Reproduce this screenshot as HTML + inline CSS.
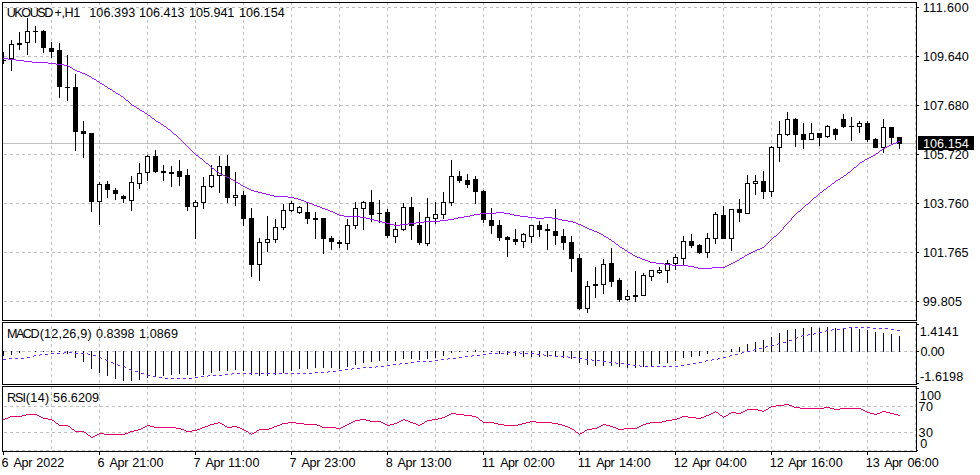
<!DOCTYPE html>
<html><head><meta charset="utf-8"><title>UKOUSD+,H1</title>
<style>
html,body{margin:0;padding:0;background:#fff;}
body{width:980px;height:475px;position:relative;overflow:hidden;font-family:"Liberation Sans",sans-serif;}
.t{position:absolute;font-size:12.6px;line-height:12px;height:12px;white-space:pre;color:#000;}
</style></head><body>
<svg width="980" height="475" viewBox="0 0 980 475" shape-rendering="crispEdges" style="position:absolute;left:0;top:0"><rect width="980" height="475" fill="#fff"/><path fill="#c0c0c0" d="M4 7h3v1h-3zM10 7h3v1h-3zM16 7h3v1h-3zM22 7h3v1h-3zM28 7h3v1h-3zM34 7h3v1h-3zM40 7h3v1h-3zM46 7h3v1h-3zM52 7h3v1h-3zM58 7h3v1h-3zM64 7h3v1h-3zM70 7h3v1h-3zM76 7h3v1h-3zM82 7h3v1h-3zM88 7h3v1h-3zM94 7h3v1h-3zM100 7h3v1h-3zM106 7h3v1h-3zM112 7h3v1h-3zM118 7h3v1h-3zM124 7h3v1h-3zM130 7h3v1h-3zM136 7h3v1h-3zM142 7h3v1h-3zM148 7h3v1h-3zM154 7h3v1h-3zM160 7h3v1h-3zM166 7h3v1h-3zM172 7h3v1h-3zM178 7h3v1h-3zM184 7h3v1h-3zM190 7h3v1h-3zM196 7h3v1h-3zM202 7h3v1h-3zM208 7h3v1h-3zM214 7h3v1h-3zM220 7h3v1h-3zM226 7h3v1h-3zM232 7h3v1h-3zM238 7h3v1h-3zM244 7h3v1h-3zM250 7h3v1h-3zM256 7h3v1h-3zM262 7h3v1h-3zM268 7h3v1h-3zM274 7h3v1h-3zM280 7h3v1h-3zM286 7h3v1h-3zM292 7h3v1h-3zM298 7h3v1h-3zM304 7h3v1h-3zM310 7h3v1h-3zM316 7h3v1h-3zM322 7h3v1h-3zM328 7h3v1h-3zM334 7h3v1h-3zM340 7h3v1h-3zM346 7h3v1h-3zM352 7h3v1h-3zM358 7h3v1h-3zM364 7h3v1h-3zM370 7h3v1h-3zM376 7h3v1h-3zM382 7h3v1h-3zM388 7h3v1h-3zM394 7h3v1h-3zM400 7h3v1h-3zM406 7h3v1h-3zM412 7h3v1h-3zM418 7h3v1h-3zM424 7h3v1h-3zM430 7h3v1h-3zM436 7h3v1h-3zM442 7h3v1h-3zM448 7h3v1h-3zM454 7h3v1h-3zM460 7h3v1h-3zM466 7h3v1h-3zM472 7h3v1h-3zM478 7h3v1h-3zM484 7h3v1h-3zM490 7h3v1h-3zM496 7h3v1h-3zM502 7h3v1h-3zM508 7h3v1h-3zM514 7h3v1h-3zM520 7h3v1h-3zM526 7h3v1h-3zM532 7h3v1h-3zM538 7h3v1h-3zM544 7h3v1h-3zM550 7h3v1h-3zM556 7h3v1h-3zM562 7h3v1h-3zM568 7h3v1h-3zM574 7h3v1h-3zM580 7h3v1h-3zM586 7h3v1h-3zM592 7h3v1h-3zM598 7h3v1h-3zM604 7h3v1h-3zM610 7h3v1h-3zM616 7h3v1h-3zM622 7h3v1h-3zM628 7h3v1h-3zM634 7h3v1h-3zM640 7h3v1h-3zM646 7h3v1h-3zM652 7h3v1h-3zM658 7h3v1h-3zM664 7h3v1h-3zM670 7h3v1h-3zM676 7h3v1h-3zM682 7h3v1h-3zM688 7h3v1h-3zM694 7h3v1h-3zM700 7h3v1h-3zM706 7h3v1h-3zM712 7h3v1h-3zM718 7h3v1h-3zM724 7h3v1h-3zM730 7h3v1h-3zM736 7h3v1h-3zM742 7h3v1h-3zM748 7h3v1h-3zM754 7h3v1h-3zM760 7h3v1h-3zM766 7h3v1h-3zM772 7h3v1h-3zM778 7h3v1h-3zM784 7h3v1h-3zM790 7h3v1h-3zM796 7h3v1h-3zM802 7h3v1h-3zM808 7h3v1h-3zM814 7h3v1h-3zM820 7h3v1h-3zM826 7h3v1h-3zM832 7h3v1h-3zM838 7h3v1h-3zM844 7h3v1h-3zM850 7h3v1h-3zM856 7h3v1h-3zM862 7h3v1h-3zM868 7h3v1h-3zM874 7h3v1h-3zM880 7h3v1h-3zM886 7h3v1h-3zM892 7h3v1h-3zM898 7h3v1h-3zM904 7h3v1h-3zM910 7h3v1h-3zM4 56h3v1h-3zM10 56h3v1h-3zM16 56h3v1h-3zM22 56h3v1h-3zM28 56h3v1h-3zM34 56h3v1h-3zM40 56h3v1h-3zM46 56h3v1h-3zM52 56h3v1h-3zM58 56h3v1h-3zM64 56h3v1h-3zM70 56h3v1h-3zM76 56h3v1h-3zM82 56h3v1h-3zM88 56h3v1h-3zM94 56h3v1h-3zM100 56h3v1h-3zM106 56h3v1h-3zM112 56h3v1h-3zM118 56h3v1h-3zM124 56h3v1h-3zM130 56h3v1h-3zM136 56h3v1h-3zM142 56h3v1h-3zM148 56h3v1h-3zM154 56h3v1h-3zM160 56h3v1h-3zM166 56h3v1h-3zM172 56h3v1h-3zM178 56h3v1h-3zM184 56h3v1h-3zM190 56h3v1h-3zM196 56h3v1h-3zM202 56h3v1h-3zM208 56h3v1h-3zM214 56h3v1h-3zM220 56h3v1h-3zM226 56h3v1h-3zM232 56h3v1h-3zM238 56h3v1h-3zM244 56h3v1h-3zM250 56h3v1h-3zM256 56h3v1h-3zM262 56h3v1h-3zM268 56h3v1h-3zM274 56h3v1h-3zM280 56h3v1h-3zM286 56h3v1h-3zM292 56h3v1h-3zM298 56h3v1h-3zM304 56h3v1h-3zM310 56h3v1h-3zM316 56h3v1h-3zM322 56h3v1h-3zM328 56h3v1h-3zM334 56h3v1h-3zM340 56h3v1h-3zM346 56h3v1h-3zM352 56h3v1h-3zM358 56h3v1h-3zM364 56h3v1h-3zM370 56h3v1h-3zM376 56h3v1h-3zM382 56h3v1h-3zM388 56h3v1h-3zM394 56h3v1h-3zM400 56h3v1h-3zM406 56h3v1h-3zM412 56h3v1h-3zM418 56h3v1h-3zM424 56h3v1h-3zM430 56h3v1h-3zM436 56h3v1h-3zM442 56h3v1h-3zM448 56h3v1h-3zM454 56h3v1h-3zM460 56h3v1h-3zM466 56h3v1h-3zM472 56h3v1h-3zM478 56h3v1h-3zM484 56h3v1h-3zM490 56h3v1h-3zM496 56h3v1h-3zM502 56h3v1h-3zM508 56h3v1h-3zM514 56h3v1h-3zM520 56h3v1h-3zM526 56h3v1h-3zM532 56h3v1h-3zM538 56h3v1h-3zM544 56h3v1h-3zM550 56h3v1h-3zM556 56h3v1h-3zM562 56h3v1h-3zM568 56h3v1h-3zM574 56h3v1h-3zM580 56h3v1h-3zM586 56h3v1h-3zM592 56h3v1h-3zM598 56h3v1h-3zM604 56h3v1h-3zM610 56h3v1h-3zM616 56h3v1h-3zM622 56h3v1h-3zM628 56h3v1h-3zM634 56h3v1h-3zM640 56h3v1h-3zM646 56h3v1h-3zM652 56h3v1h-3zM658 56h3v1h-3zM664 56h3v1h-3zM670 56h3v1h-3zM676 56h3v1h-3zM682 56h3v1h-3zM688 56h3v1h-3zM694 56h3v1h-3zM700 56h3v1h-3zM706 56h3v1h-3zM712 56h3v1h-3zM718 56h3v1h-3zM724 56h3v1h-3zM730 56h3v1h-3zM736 56h3v1h-3zM742 56h3v1h-3zM748 56h3v1h-3zM754 56h3v1h-3zM760 56h3v1h-3zM766 56h3v1h-3zM772 56h3v1h-3zM778 56h3v1h-3zM784 56h3v1h-3zM790 56h3v1h-3zM796 56h3v1h-3zM802 56h3v1h-3zM808 56h3v1h-3zM814 56h3v1h-3zM820 56h3v1h-3zM826 56h3v1h-3zM832 56h3v1h-3zM838 56h3v1h-3zM844 56h3v1h-3zM850 56h3v1h-3zM856 56h3v1h-3zM862 56h3v1h-3zM868 56h3v1h-3zM874 56h3v1h-3zM880 56h3v1h-3zM886 56h3v1h-3zM892 56h3v1h-3zM898 56h3v1h-3zM904 56h3v1h-3zM910 56h3v1h-3zM4 105h3v1h-3zM10 105h3v1h-3zM16 105h3v1h-3zM22 105h3v1h-3zM28 105h3v1h-3zM34 105h3v1h-3zM40 105h3v1h-3zM46 105h3v1h-3zM52 105h3v1h-3zM58 105h3v1h-3zM64 105h3v1h-3zM70 105h3v1h-3zM76 105h3v1h-3zM82 105h3v1h-3zM88 105h3v1h-3zM94 105h3v1h-3zM100 105h3v1h-3zM106 105h3v1h-3zM112 105h3v1h-3zM118 105h3v1h-3zM124 105h3v1h-3zM130 105h3v1h-3zM136 105h3v1h-3zM142 105h3v1h-3zM148 105h3v1h-3zM154 105h3v1h-3zM160 105h3v1h-3zM166 105h3v1h-3zM172 105h3v1h-3zM178 105h3v1h-3zM184 105h3v1h-3zM190 105h3v1h-3zM196 105h3v1h-3zM202 105h3v1h-3zM208 105h3v1h-3zM214 105h3v1h-3zM220 105h3v1h-3zM226 105h3v1h-3zM232 105h3v1h-3zM238 105h3v1h-3zM244 105h3v1h-3zM250 105h3v1h-3zM256 105h3v1h-3zM262 105h3v1h-3zM268 105h3v1h-3zM274 105h3v1h-3zM280 105h3v1h-3zM286 105h3v1h-3zM292 105h3v1h-3zM298 105h3v1h-3zM304 105h3v1h-3zM310 105h3v1h-3zM316 105h3v1h-3zM322 105h3v1h-3zM328 105h3v1h-3zM334 105h3v1h-3zM340 105h3v1h-3zM346 105h3v1h-3zM352 105h3v1h-3zM358 105h3v1h-3zM364 105h3v1h-3zM370 105h3v1h-3zM376 105h3v1h-3zM382 105h3v1h-3zM388 105h3v1h-3zM394 105h3v1h-3zM400 105h3v1h-3zM406 105h3v1h-3zM412 105h3v1h-3zM418 105h3v1h-3zM424 105h3v1h-3zM430 105h3v1h-3zM436 105h3v1h-3zM442 105h3v1h-3zM448 105h3v1h-3zM454 105h3v1h-3zM460 105h3v1h-3zM466 105h3v1h-3zM472 105h3v1h-3zM478 105h3v1h-3zM484 105h3v1h-3zM490 105h3v1h-3zM496 105h3v1h-3zM502 105h3v1h-3zM508 105h3v1h-3zM514 105h3v1h-3zM520 105h3v1h-3zM526 105h3v1h-3zM532 105h3v1h-3zM538 105h3v1h-3zM544 105h3v1h-3zM550 105h3v1h-3zM556 105h3v1h-3zM562 105h3v1h-3zM568 105h3v1h-3zM574 105h3v1h-3zM580 105h3v1h-3zM586 105h3v1h-3zM592 105h3v1h-3zM598 105h3v1h-3zM604 105h3v1h-3zM610 105h3v1h-3zM616 105h3v1h-3zM622 105h3v1h-3zM628 105h3v1h-3zM634 105h3v1h-3zM640 105h3v1h-3zM646 105h3v1h-3zM652 105h3v1h-3zM658 105h3v1h-3zM664 105h3v1h-3zM670 105h3v1h-3zM676 105h3v1h-3zM682 105h3v1h-3zM688 105h3v1h-3zM694 105h3v1h-3zM700 105h3v1h-3zM706 105h3v1h-3zM712 105h3v1h-3zM718 105h3v1h-3zM724 105h3v1h-3zM730 105h3v1h-3zM736 105h3v1h-3zM742 105h3v1h-3zM748 105h3v1h-3zM754 105h3v1h-3zM760 105h3v1h-3zM766 105h3v1h-3zM772 105h3v1h-3zM778 105h3v1h-3zM784 105h3v1h-3zM790 105h3v1h-3zM796 105h3v1h-3zM802 105h3v1h-3zM808 105h3v1h-3zM814 105h3v1h-3zM820 105h3v1h-3zM826 105h3v1h-3zM832 105h3v1h-3zM838 105h3v1h-3zM844 105h3v1h-3zM850 105h3v1h-3zM856 105h3v1h-3zM862 105h3v1h-3zM868 105h3v1h-3zM874 105h3v1h-3zM880 105h3v1h-3zM886 105h3v1h-3zM892 105h3v1h-3zM898 105h3v1h-3zM904 105h3v1h-3zM910 105h3v1h-3zM4 154h3v1h-3zM10 154h3v1h-3zM16 154h3v1h-3zM22 154h3v1h-3zM28 154h3v1h-3zM34 154h3v1h-3zM40 154h3v1h-3zM46 154h3v1h-3zM52 154h3v1h-3zM58 154h3v1h-3zM64 154h3v1h-3zM70 154h3v1h-3zM76 154h3v1h-3zM82 154h3v1h-3zM88 154h3v1h-3zM94 154h3v1h-3zM100 154h3v1h-3zM106 154h3v1h-3zM112 154h3v1h-3zM118 154h3v1h-3zM124 154h3v1h-3zM130 154h3v1h-3zM136 154h3v1h-3zM142 154h3v1h-3zM148 154h3v1h-3zM154 154h3v1h-3zM160 154h3v1h-3zM166 154h3v1h-3zM172 154h3v1h-3zM178 154h3v1h-3zM184 154h3v1h-3zM190 154h3v1h-3zM196 154h3v1h-3zM202 154h3v1h-3zM208 154h3v1h-3zM214 154h3v1h-3zM220 154h3v1h-3zM226 154h3v1h-3zM232 154h3v1h-3zM238 154h3v1h-3zM244 154h3v1h-3zM250 154h3v1h-3zM256 154h3v1h-3zM262 154h3v1h-3zM268 154h3v1h-3zM274 154h3v1h-3zM280 154h3v1h-3zM286 154h3v1h-3zM292 154h3v1h-3zM298 154h3v1h-3zM304 154h3v1h-3zM310 154h3v1h-3zM316 154h3v1h-3zM322 154h3v1h-3zM328 154h3v1h-3zM334 154h3v1h-3zM340 154h3v1h-3zM346 154h3v1h-3zM352 154h3v1h-3zM358 154h3v1h-3zM364 154h3v1h-3zM370 154h3v1h-3zM376 154h3v1h-3zM382 154h3v1h-3zM388 154h3v1h-3zM394 154h3v1h-3zM400 154h3v1h-3zM406 154h3v1h-3zM412 154h3v1h-3zM418 154h3v1h-3zM424 154h3v1h-3zM430 154h3v1h-3zM436 154h3v1h-3zM442 154h3v1h-3zM448 154h3v1h-3zM454 154h3v1h-3zM460 154h3v1h-3zM466 154h3v1h-3zM472 154h3v1h-3zM478 154h3v1h-3zM484 154h3v1h-3zM490 154h3v1h-3zM496 154h3v1h-3zM502 154h3v1h-3zM508 154h3v1h-3zM514 154h3v1h-3zM520 154h3v1h-3zM526 154h3v1h-3zM532 154h3v1h-3zM538 154h3v1h-3zM544 154h3v1h-3zM550 154h3v1h-3zM556 154h3v1h-3zM562 154h3v1h-3zM568 154h3v1h-3zM574 154h3v1h-3zM580 154h3v1h-3zM586 154h3v1h-3zM592 154h3v1h-3zM598 154h3v1h-3zM604 154h3v1h-3zM610 154h3v1h-3zM616 154h3v1h-3zM622 154h3v1h-3zM628 154h3v1h-3zM634 154h3v1h-3zM640 154h3v1h-3zM646 154h3v1h-3zM652 154h3v1h-3zM658 154h3v1h-3zM664 154h3v1h-3zM670 154h3v1h-3zM676 154h3v1h-3zM682 154h3v1h-3zM688 154h3v1h-3zM694 154h3v1h-3zM700 154h3v1h-3zM706 154h3v1h-3zM712 154h3v1h-3zM718 154h3v1h-3zM724 154h3v1h-3zM730 154h3v1h-3zM736 154h3v1h-3zM742 154h3v1h-3zM748 154h3v1h-3zM754 154h3v1h-3zM760 154h3v1h-3zM766 154h3v1h-3zM772 154h3v1h-3zM778 154h3v1h-3zM784 154h3v1h-3zM790 154h3v1h-3zM796 154h3v1h-3zM802 154h3v1h-3zM808 154h3v1h-3zM814 154h3v1h-3zM820 154h3v1h-3zM826 154h3v1h-3zM832 154h3v1h-3zM838 154h3v1h-3zM844 154h3v1h-3zM850 154h3v1h-3zM856 154h3v1h-3zM862 154h3v1h-3zM868 154h3v1h-3zM874 154h3v1h-3zM880 154h3v1h-3zM886 154h3v1h-3zM892 154h3v1h-3zM898 154h3v1h-3zM904 154h3v1h-3zM910 154h3v1h-3zM4 203h3v1h-3zM10 203h3v1h-3zM16 203h3v1h-3zM22 203h3v1h-3zM28 203h3v1h-3zM34 203h3v1h-3zM40 203h3v1h-3zM46 203h3v1h-3zM52 203h3v1h-3zM58 203h3v1h-3zM64 203h3v1h-3zM70 203h3v1h-3zM76 203h3v1h-3zM82 203h3v1h-3zM88 203h3v1h-3zM94 203h3v1h-3zM100 203h3v1h-3zM106 203h3v1h-3zM112 203h3v1h-3zM118 203h3v1h-3zM124 203h3v1h-3zM130 203h3v1h-3zM136 203h3v1h-3zM142 203h3v1h-3zM148 203h3v1h-3zM154 203h3v1h-3zM160 203h3v1h-3zM166 203h3v1h-3zM172 203h3v1h-3zM178 203h3v1h-3zM184 203h3v1h-3zM190 203h3v1h-3zM196 203h3v1h-3zM202 203h3v1h-3zM208 203h3v1h-3zM214 203h3v1h-3zM220 203h3v1h-3zM226 203h3v1h-3zM232 203h3v1h-3zM238 203h3v1h-3zM244 203h3v1h-3zM250 203h3v1h-3zM256 203h3v1h-3zM262 203h3v1h-3zM268 203h3v1h-3zM274 203h3v1h-3zM280 203h3v1h-3zM286 203h3v1h-3zM292 203h3v1h-3zM298 203h3v1h-3zM304 203h3v1h-3zM310 203h3v1h-3zM316 203h3v1h-3zM322 203h3v1h-3zM328 203h3v1h-3zM334 203h3v1h-3zM340 203h3v1h-3zM346 203h3v1h-3zM352 203h3v1h-3zM358 203h3v1h-3zM364 203h3v1h-3zM370 203h3v1h-3zM376 203h3v1h-3zM382 203h3v1h-3zM388 203h3v1h-3zM394 203h3v1h-3zM400 203h3v1h-3zM406 203h3v1h-3zM412 203h3v1h-3zM418 203h3v1h-3zM424 203h3v1h-3zM430 203h3v1h-3zM436 203h3v1h-3zM442 203h3v1h-3zM448 203h3v1h-3zM454 203h3v1h-3zM460 203h3v1h-3zM466 203h3v1h-3zM472 203h3v1h-3zM478 203h3v1h-3zM484 203h3v1h-3zM490 203h3v1h-3zM496 203h3v1h-3zM502 203h3v1h-3zM508 203h3v1h-3zM514 203h3v1h-3zM520 203h3v1h-3zM526 203h3v1h-3zM532 203h3v1h-3zM538 203h3v1h-3zM544 203h3v1h-3zM550 203h3v1h-3zM556 203h3v1h-3zM562 203h3v1h-3zM568 203h3v1h-3zM574 203h3v1h-3zM580 203h3v1h-3zM586 203h3v1h-3zM592 203h3v1h-3zM598 203h3v1h-3zM604 203h3v1h-3zM610 203h3v1h-3zM616 203h3v1h-3zM622 203h3v1h-3zM628 203h3v1h-3zM634 203h3v1h-3zM640 203h3v1h-3zM646 203h3v1h-3zM652 203h3v1h-3zM658 203h3v1h-3zM664 203h3v1h-3zM670 203h3v1h-3zM676 203h3v1h-3zM682 203h3v1h-3zM688 203h3v1h-3zM694 203h3v1h-3zM700 203h3v1h-3zM706 203h3v1h-3zM712 203h3v1h-3zM718 203h3v1h-3zM724 203h3v1h-3zM730 203h3v1h-3zM736 203h3v1h-3zM742 203h3v1h-3zM748 203h3v1h-3zM754 203h3v1h-3zM760 203h3v1h-3zM766 203h3v1h-3zM772 203h3v1h-3zM778 203h3v1h-3zM784 203h3v1h-3zM790 203h3v1h-3zM796 203h3v1h-3zM802 203h3v1h-3zM808 203h3v1h-3zM814 203h3v1h-3zM820 203h3v1h-3zM826 203h3v1h-3zM832 203h3v1h-3zM838 203h3v1h-3zM844 203h3v1h-3zM850 203h3v1h-3zM856 203h3v1h-3zM862 203h3v1h-3zM868 203h3v1h-3zM874 203h3v1h-3zM880 203h3v1h-3zM886 203h3v1h-3zM892 203h3v1h-3zM898 203h3v1h-3zM904 203h3v1h-3zM910 203h3v1h-3zM4 252h3v1h-3zM10 252h3v1h-3zM16 252h3v1h-3zM22 252h3v1h-3zM28 252h3v1h-3zM34 252h3v1h-3zM40 252h3v1h-3zM46 252h3v1h-3zM52 252h3v1h-3zM58 252h3v1h-3zM64 252h3v1h-3zM70 252h3v1h-3zM76 252h3v1h-3zM82 252h3v1h-3zM88 252h3v1h-3zM94 252h3v1h-3zM100 252h3v1h-3zM106 252h3v1h-3zM112 252h3v1h-3zM118 252h3v1h-3zM124 252h3v1h-3zM130 252h3v1h-3zM136 252h3v1h-3zM142 252h3v1h-3zM148 252h3v1h-3zM154 252h3v1h-3zM160 252h3v1h-3zM166 252h3v1h-3zM172 252h3v1h-3zM178 252h3v1h-3zM184 252h3v1h-3zM190 252h3v1h-3zM196 252h3v1h-3zM202 252h3v1h-3zM208 252h3v1h-3zM214 252h3v1h-3zM220 252h3v1h-3zM226 252h3v1h-3zM232 252h3v1h-3zM238 252h3v1h-3zM244 252h3v1h-3zM250 252h3v1h-3zM256 252h3v1h-3zM262 252h3v1h-3zM268 252h3v1h-3zM274 252h3v1h-3zM280 252h3v1h-3zM286 252h3v1h-3zM292 252h3v1h-3zM298 252h3v1h-3zM304 252h3v1h-3zM310 252h3v1h-3zM316 252h3v1h-3zM322 252h3v1h-3zM328 252h3v1h-3zM334 252h3v1h-3zM340 252h3v1h-3zM346 252h3v1h-3zM352 252h3v1h-3zM358 252h3v1h-3zM364 252h3v1h-3zM370 252h3v1h-3zM376 252h3v1h-3zM382 252h3v1h-3zM388 252h3v1h-3zM394 252h3v1h-3zM400 252h3v1h-3zM406 252h3v1h-3zM412 252h3v1h-3zM418 252h3v1h-3zM424 252h3v1h-3zM430 252h3v1h-3zM436 252h3v1h-3zM442 252h3v1h-3zM448 252h3v1h-3zM454 252h3v1h-3zM460 252h3v1h-3zM466 252h3v1h-3zM472 252h3v1h-3zM478 252h3v1h-3zM484 252h3v1h-3zM490 252h3v1h-3zM496 252h3v1h-3zM502 252h3v1h-3zM508 252h3v1h-3zM514 252h3v1h-3zM520 252h3v1h-3zM526 252h3v1h-3zM532 252h3v1h-3zM538 252h3v1h-3zM544 252h3v1h-3zM550 252h3v1h-3zM556 252h3v1h-3zM562 252h3v1h-3zM568 252h3v1h-3zM574 252h3v1h-3zM580 252h3v1h-3zM586 252h3v1h-3zM592 252h3v1h-3zM598 252h3v1h-3zM604 252h3v1h-3zM610 252h3v1h-3zM616 252h3v1h-3zM622 252h3v1h-3zM628 252h3v1h-3zM634 252h3v1h-3zM640 252h3v1h-3zM646 252h3v1h-3zM652 252h3v1h-3zM658 252h3v1h-3zM664 252h3v1h-3zM670 252h3v1h-3zM676 252h3v1h-3zM682 252h3v1h-3zM688 252h3v1h-3zM694 252h3v1h-3zM700 252h3v1h-3zM706 252h3v1h-3zM712 252h3v1h-3zM718 252h3v1h-3zM724 252h3v1h-3zM730 252h3v1h-3zM736 252h3v1h-3zM742 252h3v1h-3zM748 252h3v1h-3zM754 252h3v1h-3zM760 252h3v1h-3zM766 252h3v1h-3zM772 252h3v1h-3zM778 252h3v1h-3zM784 252h3v1h-3zM790 252h3v1h-3zM796 252h3v1h-3zM802 252h3v1h-3zM808 252h3v1h-3zM814 252h3v1h-3zM820 252h3v1h-3zM826 252h3v1h-3zM832 252h3v1h-3zM838 252h3v1h-3zM844 252h3v1h-3zM850 252h3v1h-3zM856 252h3v1h-3zM862 252h3v1h-3zM868 252h3v1h-3zM874 252h3v1h-3zM880 252h3v1h-3zM886 252h3v1h-3zM892 252h3v1h-3zM898 252h3v1h-3zM904 252h3v1h-3zM910 252h3v1h-3zM4 301h3v1h-3zM10 301h3v1h-3zM16 301h3v1h-3zM22 301h3v1h-3zM28 301h3v1h-3zM34 301h3v1h-3zM40 301h3v1h-3zM46 301h3v1h-3zM52 301h3v1h-3zM58 301h3v1h-3zM64 301h3v1h-3zM70 301h3v1h-3zM76 301h3v1h-3zM82 301h3v1h-3zM88 301h3v1h-3zM94 301h3v1h-3zM100 301h3v1h-3zM106 301h3v1h-3zM112 301h3v1h-3zM118 301h3v1h-3zM124 301h3v1h-3zM130 301h3v1h-3zM136 301h3v1h-3zM142 301h3v1h-3zM148 301h3v1h-3zM154 301h3v1h-3zM160 301h3v1h-3zM166 301h3v1h-3zM172 301h3v1h-3zM178 301h3v1h-3zM184 301h3v1h-3zM190 301h3v1h-3zM196 301h3v1h-3zM202 301h3v1h-3zM208 301h3v1h-3zM214 301h3v1h-3zM220 301h3v1h-3zM226 301h3v1h-3zM232 301h3v1h-3zM238 301h3v1h-3zM244 301h3v1h-3zM250 301h3v1h-3zM256 301h3v1h-3zM262 301h3v1h-3zM268 301h3v1h-3zM274 301h3v1h-3zM280 301h3v1h-3zM286 301h3v1h-3zM292 301h3v1h-3zM298 301h3v1h-3zM304 301h3v1h-3zM310 301h3v1h-3zM316 301h3v1h-3zM322 301h3v1h-3zM328 301h3v1h-3zM334 301h3v1h-3zM340 301h3v1h-3zM346 301h3v1h-3zM352 301h3v1h-3zM358 301h3v1h-3zM364 301h3v1h-3zM370 301h3v1h-3zM376 301h3v1h-3zM382 301h3v1h-3zM388 301h3v1h-3zM394 301h3v1h-3zM400 301h3v1h-3zM406 301h3v1h-3zM412 301h3v1h-3zM418 301h3v1h-3zM424 301h3v1h-3zM430 301h3v1h-3zM436 301h3v1h-3zM442 301h3v1h-3zM448 301h3v1h-3zM454 301h3v1h-3zM460 301h3v1h-3zM466 301h3v1h-3zM472 301h3v1h-3zM478 301h3v1h-3zM484 301h3v1h-3zM490 301h3v1h-3zM496 301h3v1h-3zM502 301h3v1h-3zM508 301h3v1h-3zM514 301h3v1h-3zM520 301h3v1h-3zM526 301h3v1h-3zM532 301h3v1h-3zM538 301h3v1h-3zM544 301h3v1h-3zM550 301h3v1h-3zM556 301h3v1h-3zM562 301h3v1h-3zM568 301h3v1h-3zM574 301h3v1h-3zM580 301h3v1h-3zM586 301h3v1h-3zM592 301h3v1h-3zM598 301h3v1h-3zM604 301h3v1h-3zM610 301h3v1h-3zM616 301h3v1h-3zM622 301h3v1h-3zM628 301h3v1h-3zM634 301h3v1h-3zM640 301h3v1h-3zM646 301h3v1h-3zM652 301h3v1h-3zM658 301h3v1h-3zM664 301h3v1h-3zM670 301h3v1h-3zM676 301h3v1h-3zM682 301h3v1h-3zM688 301h3v1h-3zM694 301h3v1h-3zM700 301h3v1h-3zM706 301h3v1h-3zM712 301h3v1h-3zM718 301h3v1h-3zM724 301h3v1h-3zM730 301h3v1h-3zM736 301h3v1h-3zM742 301h3v1h-3zM748 301h3v1h-3zM754 301h3v1h-3zM760 301h3v1h-3zM766 301h3v1h-3zM772 301h3v1h-3zM778 301h3v1h-3zM784 301h3v1h-3zM790 301h3v1h-3zM796 301h3v1h-3zM802 301h3v1h-3zM808 301h3v1h-3zM814 301h3v1h-3zM820 301h3v1h-3zM826 301h3v1h-3zM832 301h3v1h-3zM838 301h3v1h-3zM844 301h3v1h-3zM850 301h3v1h-3zM856 301h3v1h-3zM862 301h3v1h-3zM868 301h3v1h-3zM874 301h3v1h-3zM880 301h3v1h-3zM886 301h3v1h-3zM892 301h3v1h-3zM898 301h3v1h-3zM904 301h3v1h-3zM910 301h3v1h-3zM4 351h3v1h-3zM10 351h3v1h-3zM16 351h3v1h-3zM22 351h3v1h-3zM28 351h3v1h-3zM34 351h3v1h-3zM40 351h3v1h-3zM46 351h3v1h-3zM52 351h3v1h-3zM58 351h3v1h-3zM64 351h3v1h-3zM70 351h3v1h-3zM76 351h3v1h-3zM82 351h3v1h-3zM88 351h3v1h-3zM94 351h3v1h-3zM100 351h3v1h-3zM106 351h3v1h-3zM112 351h3v1h-3zM118 351h3v1h-3zM124 351h3v1h-3zM130 351h3v1h-3zM136 351h3v1h-3zM142 351h3v1h-3zM148 351h3v1h-3zM154 351h3v1h-3zM160 351h3v1h-3zM166 351h3v1h-3zM172 351h3v1h-3zM178 351h3v1h-3zM184 351h3v1h-3zM190 351h3v1h-3zM196 351h3v1h-3zM202 351h3v1h-3zM208 351h3v1h-3zM214 351h3v1h-3zM220 351h3v1h-3zM226 351h3v1h-3zM232 351h3v1h-3zM238 351h3v1h-3zM244 351h3v1h-3zM250 351h3v1h-3zM256 351h3v1h-3zM262 351h3v1h-3zM268 351h3v1h-3zM274 351h3v1h-3zM280 351h3v1h-3zM286 351h3v1h-3zM292 351h3v1h-3zM298 351h3v1h-3zM304 351h3v1h-3zM310 351h3v1h-3zM316 351h3v1h-3zM322 351h3v1h-3zM328 351h3v1h-3zM334 351h3v1h-3zM340 351h3v1h-3zM346 351h3v1h-3zM352 351h3v1h-3zM358 351h3v1h-3zM364 351h3v1h-3zM370 351h3v1h-3zM376 351h3v1h-3zM382 351h3v1h-3zM388 351h3v1h-3zM394 351h3v1h-3zM400 351h3v1h-3zM406 351h3v1h-3zM412 351h3v1h-3zM418 351h3v1h-3zM424 351h3v1h-3zM430 351h3v1h-3zM436 351h3v1h-3zM442 351h3v1h-3zM448 351h3v1h-3zM454 351h3v1h-3zM460 351h3v1h-3zM466 351h3v1h-3zM472 351h3v1h-3zM478 351h3v1h-3zM484 351h3v1h-3zM490 351h3v1h-3zM496 351h3v1h-3zM502 351h3v1h-3zM508 351h3v1h-3zM514 351h3v1h-3zM520 351h3v1h-3zM526 351h3v1h-3zM532 351h3v1h-3zM538 351h3v1h-3zM544 351h3v1h-3zM550 351h3v1h-3zM556 351h3v1h-3zM562 351h3v1h-3zM568 351h3v1h-3zM574 351h3v1h-3zM580 351h3v1h-3zM586 351h3v1h-3zM592 351h3v1h-3zM598 351h3v1h-3zM604 351h3v1h-3zM610 351h3v1h-3zM616 351h3v1h-3zM622 351h3v1h-3zM628 351h3v1h-3zM634 351h3v1h-3zM640 351h3v1h-3zM646 351h3v1h-3zM652 351h3v1h-3zM658 351h3v1h-3zM664 351h3v1h-3zM670 351h3v1h-3zM676 351h3v1h-3zM682 351h3v1h-3zM688 351h3v1h-3zM694 351h3v1h-3zM700 351h3v1h-3zM706 351h3v1h-3zM712 351h3v1h-3zM718 351h3v1h-3zM724 351h3v1h-3zM730 351h3v1h-3zM736 351h3v1h-3zM742 351h3v1h-3zM748 351h3v1h-3zM754 351h3v1h-3zM760 351h3v1h-3zM766 351h3v1h-3zM772 351h3v1h-3zM778 351h3v1h-3zM784 351h3v1h-3zM790 351h3v1h-3zM796 351h3v1h-3zM802 351h3v1h-3zM808 351h3v1h-3zM814 351h3v1h-3zM820 351h3v1h-3zM826 351h3v1h-3zM832 351h3v1h-3zM838 351h3v1h-3zM844 351h3v1h-3zM850 351h3v1h-3zM856 351h3v1h-3zM862 351h3v1h-3zM868 351h3v1h-3zM874 351h3v1h-3zM880 351h3v1h-3zM886 351h3v1h-3zM892 351h3v1h-3zM898 351h3v1h-3zM904 351h3v1h-3zM910 351h3v1h-3zM4 406h3v1h-3zM10 406h3v1h-3zM16 406h3v1h-3zM22 406h3v1h-3zM28 406h3v1h-3zM34 406h3v1h-3zM40 406h3v1h-3zM46 406h3v1h-3zM52 406h3v1h-3zM58 406h3v1h-3zM64 406h3v1h-3zM70 406h3v1h-3zM76 406h3v1h-3zM82 406h3v1h-3zM88 406h3v1h-3zM94 406h3v1h-3zM100 406h3v1h-3zM106 406h3v1h-3zM112 406h3v1h-3zM118 406h3v1h-3zM124 406h3v1h-3zM130 406h3v1h-3zM136 406h3v1h-3zM142 406h3v1h-3zM148 406h3v1h-3zM154 406h3v1h-3zM160 406h3v1h-3zM166 406h3v1h-3zM172 406h3v1h-3zM178 406h3v1h-3zM184 406h3v1h-3zM190 406h3v1h-3zM196 406h3v1h-3zM202 406h3v1h-3zM208 406h3v1h-3zM214 406h3v1h-3zM220 406h3v1h-3zM226 406h3v1h-3zM232 406h3v1h-3zM238 406h3v1h-3zM244 406h3v1h-3zM250 406h3v1h-3zM256 406h3v1h-3zM262 406h3v1h-3zM268 406h3v1h-3zM274 406h3v1h-3zM280 406h3v1h-3zM286 406h3v1h-3zM292 406h3v1h-3zM298 406h3v1h-3zM304 406h3v1h-3zM310 406h3v1h-3zM316 406h3v1h-3zM322 406h3v1h-3zM328 406h3v1h-3zM334 406h3v1h-3zM340 406h3v1h-3zM346 406h3v1h-3zM352 406h3v1h-3zM358 406h3v1h-3zM364 406h3v1h-3zM370 406h3v1h-3zM376 406h3v1h-3zM382 406h3v1h-3zM388 406h3v1h-3zM394 406h3v1h-3zM400 406h3v1h-3zM406 406h3v1h-3zM412 406h3v1h-3zM418 406h3v1h-3zM424 406h3v1h-3zM430 406h3v1h-3zM436 406h3v1h-3zM442 406h3v1h-3zM448 406h3v1h-3zM454 406h3v1h-3zM460 406h3v1h-3zM466 406h3v1h-3zM472 406h3v1h-3zM478 406h3v1h-3zM484 406h3v1h-3zM490 406h3v1h-3zM496 406h3v1h-3zM502 406h3v1h-3zM508 406h3v1h-3zM514 406h3v1h-3zM520 406h3v1h-3zM526 406h3v1h-3zM532 406h3v1h-3zM538 406h3v1h-3zM544 406h3v1h-3zM550 406h3v1h-3zM556 406h3v1h-3zM562 406h3v1h-3zM568 406h3v1h-3zM574 406h3v1h-3zM580 406h3v1h-3zM586 406h3v1h-3zM592 406h3v1h-3zM598 406h3v1h-3zM604 406h3v1h-3zM610 406h3v1h-3zM616 406h3v1h-3zM622 406h3v1h-3zM628 406h3v1h-3zM634 406h3v1h-3zM640 406h3v1h-3zM646 406h3v1h-3zM652 406h3v1h-3zM658 406h3v1h-3zM664 406h3v1h-3zM670 406h3v1h-3zM676 406h3v1h-3zM682 406h3v1h-3zM688 406h3v1h-3zM694 406h3v1h-3zM700 406h3v1h-3zM706 406h3v1h-3zM712 406h3v1h-3zM718 406h3v1h-3zM724 406h3v1h-3zM730 406h3v1h-3zM736 406h3v1h-3zM742 406h3v1h-3zM748 406h3v1h-3zM754 406h3v1h-3zM760 406h3v1h-3zM766 406h3v1h-3zM772 406h3v1h-3zM778 406h3v1h-3zM784 406h3v1h-3zM790 406h3v1h-3zM796 406h3v1h-3zM802 406h3v1h-3zM808 406h3v1h-3zM814 406h3v1h-3zM820 406h3v1h-3zM826 406h3v1h-3zM832 406h3v1h-3zM838 406h3v1h-3zM844 406h3v1h-3zM850 406h3v1h-3zM856 406h3v1h-3zM862 406h3v1h-3zM868 406h3v1h-3zM874 406h3v1h-3zM880 406h3v1h-3zM886 406h3v1h-3zM892 406h3v1h-3zM898 406h3v1h-3zM904 406h3v1h-3zM910 406h3v1h-3zM4 432h3v1h-3zM10 432h3v1h-3zM16 432h3v1h-3zM22 432h3v1h-3zM28 432h3v1h-3zM34 432h3v1h-3zM40 432h3v1h-3zM46 432h3v1h-3zM52 432h3v1h-3zM58 432h3v1h-3zM64 432h3v1h-3zM70 432h3v1h-3zM76 432h3v1h-3zM82 432h3v1h-3zM88 432h3v1h-3zM94 432h3v1h-3zM100 432h3v1h-3zM106 432h3v1h-3zM112 432h3v1h-3zM118 432h3v1h-3zM124 432h3v1h-3zM130 432h3v1h-3zM136 432h3v1h-3zM142 432h3v1h-3zM148 432h3v1h-3zM154 432h3v1h-3zM160 432h3v1h-3zM166 432h3v1h-3zM172 432h3v1h-3zM178 432h3v1h-3zM184 432h3v1h-3zM190 432h3v1h-3zM196 432h3v1h-3zM202 432h3v1h-3zM208 432h3v1h-3zM214 432h3v1h-3zM220 432h3v1h-3zM226 432h3v1h-3zM232 432h3v1h-3zM238 432h3v1h-3zM244 432h3v1h-3zM250 432h3v1h-3zM256 432h3v1h-3zM262 432h3v1h-3zM268 432h3v1h-3zM274 432h3v1h-3zM280 432h3v1h-3zM286 432h3v1h-3zM292 432h3v1h-3zM298 432h3v1h-3zM304 432h3v1h-3zM310 432h3v1h-3zM316 432h3v1h-3zM322 432h3v1h-3zM328 432h3v1h-3zM334 432h3v1h-3zM340 432h3v1h-3zM346 432h3v1h-3zM352 432h3v1h-3zM358 432h3v1h-3zM364 432h3v1h-3zM370 432h3v1h-3zM376 432h3v1h-3zM382 432h3v1h-3zM388 432h3v1h-3zM394 432h3v1h-3zM400 432h3v1h-3zM406 432h3v1h-3zM412 432h3v1h-3zM418 432h3v1h-3zM424 432h3v1h-3zM430 432h3v1h-3zM436 432h3v1h-3zM442 432h3v1h-3zM448 432h3v1h-3zM454 432h3v1h-3zM460 432h3v1h-3zM466 432h3v1h-3zM472 432h3v1h-3zM478 432h3v1h-3zM484 432h3v1h-3zM490 432h3v1h-3zM496 432h3v1h-3zM502 432h3v1h-3zM508 432h3v1h-3zM514 432h3v1h-3zM520 432h3v1h-3zM526 432h3v1h-3zM532 432h3v1h-3zM538 432h3v1h-3zM544 432h3v1h-3zM550 432h3v1h-3zM556 432h3v1h-3zM562 432h3v1h-3zM568 432h3v1h-3zM574 432h3v1h-3zM580 432h3v1h-3zM586 432h3v1h-3zM592 432h3v1h-3zM598 432h3v1h-3zM604 432h3v1h-3zM610 432h3v1h-3zM616 432h3v1h-3zM622 432h3v1h-3zM628 432h3v1h-3zM634 432h3v1h-3zM640 432h3v1h-3zM646 432h3v1h-3zM652 432h3v1h-3zM658 432h3v1h-3zM664 432h3v1h-3zM670 432h3v1h-3zM676 432h3v1h-3zM682 432h3v1h-3zM688 432h3v1h-3zM694 432h3v1h-3zM700 432h3v1h-3zM706 432h3v1h-3zM712 432h3v1h-3zM718 432h3v1h-3zM724 432h3v1h-3zM730 432h3v1h-3zM736 432h3v1h-3zM742 432h3v1h-3zM748 432h3v1h-3zM754 432h3v1h-3zM760 432h3v1h-3zM766 432h3v1h-3zM772 432h3v1h-3zM778 432h3v1h-3zM784 432h3v1h-3zM790 432h3v1h-3zM796 432h3v1h-3zM802 432h3v1h-3zM808 432h3v1h-3zM814 432h3v1h-3zM820 432h3v1h-3zM826 432h3v1h-3zM832 432h3v1h-3zM838 432h3v1h-3zM844 432h3v1h-3zM850 432h3v1h-3zM856 432h3v1h-3zM862 432h3v1h-3zM868 432h3v1h-3zM874 432h3v1h-3zM880 432h3v1h-3zM886 432h3v1h-3zM892 432h3v1h-3zM898 432h3v1h-3zM904 432h3v1h-3zM910 432h3v1h-3zM4 450h3v1h-3zM10 450h3v1h-3zM16 450h3v1h-3zM22 450h3v1h-3zM28 450h3v1h-3zM34 450h3v1h-3zM40 450h3v1h-3zM46 450h3v1h-3zM52 450h3v1h-3zM58 450h3v1h-3zM64 450h3v1h-3zM70 450h3v1h-3zM76 450h3v1h-3zM82 450h3v1h-3zM88 450h3v1h-3zM94 450h3v1h-3zM100 450h3v1h-3zM106 450h3v1h-3zM112 450h3v1h-3zM118 450h3v1h-3zM124 450h3v1h-3zM130 450h3v1h-3zM136 450h3v1h-3zM142 450h3v1h-3zM148 450h3v1h-3zM154 450h3v1h-3zM160 450h3v1h-3zM166 450h3v1h-3zM172 450h3v1h-3zM178 450h3v1h-3zM184 450h3v1h-3zM190 450h3v1h-3zM196 450h3v1h-3zM202 450h3v1h-3zM208 450h3v1h-3zM214 450h3v1h-3zM220 450h3v1h-3zM226 450h3v1h-3zM232 450h3v1h-3zM238 450h3v1h-3zM244 450h3v1h-3zM250 450h3v1h-3zM256 450h3v1h-3zM262 450h3v1h-3zM268 450h3v1h-3zM274 450h3v1h-3zM280 450h3v1h-3zM286 450h3v1h-3zM292 450h3v1h-3zM298 450h3v1h-3zM304 450h3v1h-3zM310 450h3v1h-3zM316 450h3v1h-3zM322 450h3v1h-3zM328 450h3v1h-3zM334 450h3v1h-3zM340 450h3v1h-3zM346 450h3v1h-3zM352 450h3v1h-3zM358 450h3v1h-3zM364 450h3v1h-3zM370 450h3v1h-3zM376 450h3v1h-3zM382 450h3v1h-3zM388 450h3v1h-3zM394 450h3v1h-3zM400 450h3v1h-3zM406 450h3v1h-3zM412 450h3v1h-3zM418 450h3v1h-3zM424 450h3v1h-3zM430 450h3v1h-3zM436 450h3v1h-3zM442 450h3v1h-3zM448 450h3v1h-3zM454 450h3v1h-3zM460 450h3v1h-3zM466 450h3v1h-3zM472 450h3v1h-3zM478 450h3v1h-3zM484 450h3v1h-3zM490 450h3v1h-3zM496 450h3v1h-3zM502 450h3v1h-3zM508 450h3v1h-3zM514 450h3v1h-3zM520 450h3v1h-3zM526 450h3v1h-3zM532 450h3v1h-3zM538 450h3v1h-3zM544 450h3v1h-3zM550 450h3v1h-3zM556 450h3v1h-3zM562 450h3v1h-3zM568 450h3v1h-3zM574 450h3v1h-3zM580 450h3v1h-3zM586 450h3v1h-3zM592 450h3v1h-3zM598 450h3v1h-3zM604 450h3v1h-3zM610 450h3v1h-3zM616 450h3v1h-3zM622 450h3v1h-3zM628 450h3v1h-3zM634 450h3v1h-3zM640 450h3v1h-3zM646 450h3v1h-3zM652 450h3v1h-3zM658 450h3v1h-3zM664 450h3v1h-3zM670 450h3v1h-3zM676 450h3v1h-3zM682 450h3v1h-3zM688 450h3v1h-3zM694 450h3v1h-3zM700 450h3v1h-3zM706 450h3v1h-3zM712 450h3v1h-3zM718 450h3v1h-3zM724 450h3v1h-3zM730 450h3v1h-3zM736 450h3v1h-3zM742 450h3v1h-3zM748 450h3v1h-3zM754 450h3v1h-3zM760 450h3v1h-3zM766 450h3v1h-3zM772 450h3v1h-3zM778 450h3v1h-3zM784 450h3v1h-3zM790 450h3v1h-3zM796 450h3v1h-3zM802 450h3v1h-3zM808 450h3v1h-3zM814 450h3v1h-3zM820 450h3v1h-3zM826 450h3v1h-3zM832 450h3v1h-3zM838 450h3v1h-3zM844 450h3v1h-3zM850 450h3v1h-3zM856 450h3v1h-3zM862 450h3v1h-3zM868 450h3v1h-3zM874 450h3v1h-3zM880 450h3v1h-3zM886 450h3v1h-3zM892 450h3v1h-3zM898 450h3v1h-3zM904 450h3v1h-3zM910 450h3v1h-3zM51 3h1v2h-1zM51 8h1v3h-1zM51 14h1v3h-1zM51 20h1v3h-1zM51 26h1v3h-1zM51 32h1v3h-1zM51 38h1v3h-1zM51 44h1v3h-1zM51 50h1v3h-1zM51 56h1v3h-1zM51 62h1v3h-1zM51 68h1v3h-1zM51 74h1v3h-1zM51 80h1v3h-1zM51 86h1v3h-1zM51 92h1v3h-1zM51 98h1v3h-1zM51 104h1v3h-1zM51 110h1v3h-1zM51 116h1v3h-1zM51 122h1v3h-1zM51 128h1v3h-1zM51 134h1v3h-1zM51 140h1v3h-1zM51 146h1v3h-1zM51 152h1v3h-1zM51 158h1v3h-1zM51 164h1v3h-1zM51 170h1v3h-1zM51 176h1v3h-1zM51 182h1v3h-1zM51 188h1v3h-1zM51 194h1v3h-1zM51 200h1v3h-1zM51 206h1v3h-1zM51 212h1v3h-1zM51 218h1v3h-1zM51 224h1v3h-1zM51 230h1v3h-1zM51 236h1v3h-1zM51 242h1v3h-1zM51 248h1v3h-1zM51 254h1v3h-1zM51 260h1v3h-1zM51 266h1v3h-1zM51 272h1v3h-1zM51 278h1v3h-1zM51 284h1v3h-1zM51 290h1v3h-1zM51 296h1v3h-1zM51 302h1v3h-1zM51 308h1v3h-1zM51 314h1v3h-1zM51 326h1v3h-1zM51 332h1v3h-1zM51 338h1v3h-1zM51 344h1v3h-1zM51 350h1v3h-1zM51 356h1v3h-1zM51 362h1v3h-1zM51 368h1v3h-1zM51 374h1v3h-1zM51 380h1v3h-1zM51 387h1v2h-1zM51 392h1v3h-1zM51 398h1v3h-1zM51 404h1v3h-1zM51 410h1v3h-1zM51 416h1v3h-1zM51 422h1v3h-1zM51 428h1v3h-1zM51 434h1v3h-1zM51 440h1v3h-1zM51 446h1v3h-1zM99 3h1v2h-1zM99 8h1v3h-1zM99 14h1v3h-1zM99 20h1v3h-1zM99 26h1v3h-1zM99 32h1v3h-1zM99 38h1v3h-1zM99 44h1v3h-1zM99 50h1v3h-1zM99 56h1v3h-1zM99 62h1v3h-1zM99 68h1v3h-1zM99 74h1v3h-1zM99 80h1v3h-1zM99 86h1v3h-1zM99 92h1v3h-1zM99 98h1v3h-1zM99 104h1v3h-1zM99 110h1v3h-1zM99 116h1v3h-1zM99 122h1v3h-1zM99 128h1v3h-1zM99 134h1v3h-1zM99 140h1v3h-1zM99 146h1v3h-1zM99 152h1v3h-1zM99 158h1v3h-1zM99 164h1v3h-1zM99 170h1v3h-1zM99 176h1v3h-1zM99 182h1v3h-1zM99 188h1v3h-1zM99 194h1v3h-1zM99 200h1v3h-1zM99 206h1v3h-1zM99 212h1v3h-1zM99 218h1v3h-1zM99 224h1v3h-1zM99 230h1v3h-1zM99 236h1v3h-1zM99 242h1v3h-1zM99 248h1v3h-1zM99 254h1v3h-1zM99 260h1v3h-1zM99 266h1v3h-1zM99 272h1v3h-1zM99 278h1v3h-1zM99 284h1v3h-1zM99 290h1v3h-1zM99 296h1v3h-1zM99 302h1v3h-1zM99 308h1v3h-1zM99 314h1v3h-1zM99 326h1v3h-1zM99 332h1v3h-1zM99 338h1v3h-1zM99 344h1v3h-1zM99 350h1v3h-1zM99 356h1v3h-1zM99 362h1v3h-1zM99 368h1v3h-1zM99 374h1v3h-1zM99 380h1v3h-1zM99 387h1v2h-1zM99 392h1v3h-1zM99 398h1v3h-1zM99 404h1v3h-1zM99 410h1v3h-1zM99 416h1v3h-1zM99 422h1v3h-1zM99 428h1v3h-1zM99 434h1v3h-1zM99 440h1v3h-1zM99 446h1v3h-1zM147 3h1v2h-1zM147 8h1v3h-1zM147 14h1v3h-1zM147 20h1v3h-1zM147 26h1v3h-1zM147 32h1v3h-1zM147 38h1v3h-1zM147 44h1v3h-1zM147 50h1v3h-1zM147 56h1v3h-1zM147 62h1v3h-1zM147 68h1v3h-1zM147 74h1v3h-1zM147 80h1v3h-1zM147 86h1v3h-1zM147 92h1v3h-1zM147 98h1v3h-1zM147 104h1v3h-1zM147 110h1v3h-1zM147 116h1v3h-1zM147 122h1v3h-1zM147 128h1v3h-1zM147 134h1v3h-1zM147 140h1v3h-1zM147 146h1v3h-1zM147 152h1v3h-1zM147 158h1v3h-1zM147 164h1v3h-1zM147 170h1v3h-1zM147 176h1v3h-1zM147 182h1v3h-1zM147 188h1v3h-1zM147 194h1v3h-1zM147 200h1v3h-1zM147 206h1v3h-1zM147 212h1v3h-1zM147 218h1v3h-1zM147 224h1v3h-1zM147 230h1v3h-1zM147 236h1v3h-1zM147 242h1v3h-1zM147 248h1v3h-1zM147 254h1v3h-1zM147 260h1v3h-1zM147 266h1v3h-1zM147 272h1v3h-1zM147 278h1v3h-1zM147 284h1v3h-1zM147 290h1v3h-1zM147 296h1v3h-1zM147 302h1v3h-1zM147 308h1v3h-1zM147 314h1v3h-1zM147 326h1v3h-1zM147 332h1v3h-1zM147 338h1v3h-1zM147 344h1v3h-1zM147 350h1v3h-1zM147 356h1v3h-1zM147 362h1v3h-1zM147 368h1v3h-1zM147 374h1v3h-1zM147 380h1v3h-1zM147 387h1v2h-1zM147 392h1v3h-1zM147 398h1v3h-1zM147 404h1v3h-1zM147 410h1v3h-1zM147 416h1v3h-1zM147 422h1v3h-1zM147 428h1v3h-1zM147 434h1v3h-1zM147 440h1v3h-1zM147 446h1v3h-1zM195 3h1v2h-1zM195 8h1v3h-1zM195 14h1v3h-1zM195 20h1v3h-1zM195 26h1v3h-1zM195 32h1v3h-1zM195 38h1v3h-1zM195 44h1v3h-1zM195 50h1v3h-1zM195 56h1v3h-1zM195 62h1v3h-1zM195 68h1v3h-1zM195 74h1v3h-1zM195 80h1v3h-1zM195 86h1v3h-1zM195 92h1v3h-1zM195 98h1v3h-1zM195 104h1v3h-1zM195 110h1v3h-1zM195 116h1v3h-1zM195 122h1v3h-1zM195 128h1v3h-1zM195 134h1v3h-1zM195 140h1v3h-1zM195 146h1v3h-1zM195 152h1v3h-1zM195 158h1v3h-1zM195 164h1v3h-1zM195 170h1v3h-1zM195 176h1v3h-1zM195 182h1v3h-1zM195 188h1v3h-1zM195 194h1v3h-1zM195 200h1v3h-1zM195 206h1v3h-1zM195 212h1v3h-1zM195 218h1v3h-1zM195 224h1v3h-1zM195 230h1v3h-1zM195 236h1v3h-1zM195 242h1v3h-1zM195 248h1v3h-1zM195 254h1v3h-1zM195 260h1v3h-1zM195 266h1v3h-1zM195 272h1v3h-1zM195 278h1v3h-1zM195 284h1v3h-1zM195 290h1v3h-1zM195 296h1v3h-1zM195 302h1v3h-1zM195 308h1v3h-1zM195 314h1v3h-1zM195 326h1v3h-1zM195 332h1v3h-1zM195 338h1v3h-1zM195 344h1v3h-1zM195 350h1v3h-1zM195 356h1v3h-1zM195 362h1v3h-1zM195 368h1v3h-1zM195 374h1v3h-1zM195 380h1v3h-1zM195 387h1v2h-1zM195 392h1v3h-1zM195 398h1v3h-1zM195 404h1v3h-1zM195 410h1v3h-1zM195 416h1v3h-1zM195 422h1v3h-1zM195 428h1v3h-1zM195 434h1v3h-1zM195 440h1v3h-1zM195 446h1v3h-1zM243 3h1v2h-1zM243 8h1v3h-1zM243 14h1v3h-1zM243 20h1v3h-1zM243 26h1v3h-1zM243 32h1v3h-1zM243 38h1v3h-1zM243 44h1v3h-1zM243 50h1v3h-1zM243 56h1v3h-1zM243 62h1v3h-1zM243 68h1v3h-1zM243 74h1v3h-1zM243 80h1v3h-1zM243 86h1v3h-1zM243 92h1v3h-1zM243 98h1v3h-1zM243 104h1v3h-1zM243 110h1v3h-1zM243 116h1v3h-1zM243 122h1v3h-1zM243 128h1v3h-1zM243 134h1v3h-1zM243 140h1v3h-1zM243 146h1v3h-1zM243 152h1v3h-1zM243 158h1v3h-1zM243 164h1v3h-1zM243 170h1v3h-1zM243 176h1v3h-1zM243 182h1v3h-1zM243 188h1v3h-1zM243 194h1v3h-1zM243 200h1v3h-1zM243 206h1v3h-1zM243 212h1v3h-1zM243 218h1v3h-1zM243 224h1v3h-1zM243 230h1v3h-1zM243 236h1v3h-1zM243 242h1v3h-1zM243 248h1v3h-1zM243 254h1v3h-1zM243 260h1v3h-1zM243 266h1v3h-1zM243 272h1v3h-1zM243 278h1v3h-1zM243 284h1v3h-1zM243 290h1v3h-1zM243 296h1v3h-1zM243 302h1v3h-1zM243 308h1v3h-1zM243 314h1v3h-1zM243 326h1v3h-1zM243 332h1v3h-1zM243 338h1v3h-1zM243 344h1v3h-1zM243 350h1v3h-1zM243 356h1v3h-1zM243 362h1v3h-1zM243 368h1v3h-1zM243 374h1v3h-1zM243 380h1v3h-1zM243 387h1v2h-1zM243 392h1v3h-1zM243 398h1v3h-1zM243 404h1v3h-1zM243 410h1v3h-1zM243 416h1v3h-1zM243 422h1v3h-1zM243 428h1v3h-1zM243 434h1v3h-1zM243 440h1v3h-1zM243 446h1v3h-1zM291 3h1v2h-1zM291 8h1v3h-1zM291 14h1v3h-1zM291 20h1v3h-1zM291 26h1v3h-1zM291 32h1v3h-1zM291 38h1v3h-1zM291 44h1v3h-1zM291 50h1v3h-1zM291 56h1v3h-1zM291 62h1v3h-1zM291 68h1v3h-1zM291 74h1v3h-1zM291 80h1v3h-1zM291 86h1v3h-1zM291 92h1v3h-1zM291 98h1v3h-1zM291 104h1v3h-1zM291 110h1v3h-1zM291 116h1v3h-1zM291 122h1v3h-1zM291 128h1v3h-1zM291 134h1v3h-1zM291 140h1v3h-1zM291 146h1v3h-1zM291 152h1v3h-1zM291 158h1v3h-1zM291 164h1v3h-1zM291 170h1v3h-1zM291 176h1v3h-1zM291 182h1v3h-1zM291 188h1v3h-1zM291 194h1v3h-1zM291 200h1v3h-1zM291 206h1v3h-1zM291 212h1v3h-1zM291 218h1v3h-1zM291 224h1v3h-1zM291 230h1v3h-1zM291 236h1v3h-1zM291 242h1v3h-1zM291 248h1v3h-1zM291 254h1v3h-1zM291 260h1v3h-1zM291 266h1v3h-1zM291 272h1v3h-1zM291 278h1v3h-1zM291 284h1v3h-1zM291 290h1v3h-1zM291 296h1v3h-1zM291 302h1v3h-1zM291 308h1v3h-1zM291 314h1v3h-1zM291 326h1v3h-1zM291 332h1v3h-1zM291 338h1v3h-1zM291 344h1v3h-1zM291 350h1v3h-1zM291 356h1v3h-1zM291 362h1v3h-1zM291 368h1v3h-1zM291 374h1v3h-1zM291 380h1v3h-1zM291 387h1v2h-1zM291 392h1v3h-1zM291 398h1v3h-1zM291 404h1v3h-1zM291 410h1v3h-1zM291 416h1v3h-1zM291 422h1v3h-1zM291 428h1v3h-1zM291 434h1v3h-1zM291 440h1v3h-1zM291 446h1v3h-1zM339 3h1v2h-1zM339 8h1v3h-1zM339 14h1v3h-1zM339 20h1v3h-1zM339 26h1v3h-1zM339 32h1v3h-1zM339 38h1v3h-1zM339 44h1v3h-1zM339 50h1v3h-1zM339 56h1v3h-1zM339 62h1v3h-1zM339 68h1v3h-1zM339 74h1v3h-1zM339 80h1v3h-1zM339 86h1v3h-1zM339 92h1v3h-1zM339 98h1v3h-1zM339 104h1v3h-1zM339 110h1v3h-1zM339 116h1v3h-1zM339 122h1v3h-1zM339 128h1v3h-1zM339 134h1v3h-1zM339 140h1v3h-1zM339 146h1v3h-1zM339 152h1v3h-1zM339 158h1v3h-1zM339 164h1v3h-1zM339 170h1v3h-1zM339 176h1v3h-1zM339 182h1v3h-1zM339 188h1v3h-1zM339 194h1v3h-1zM339 200h1v3h-1zM339 206h1v3h-1zM339 212h1v3h-1zM339 218h1v3h-1zM339 224h1v3h-1zM339 230h1v3h-1zM339 236h1v3h-1zM339 242h1v3h-1zM339 248h1v3h-1zM339 254h1v3h-1zM339 260h1v3h-1zM339 266h1v3h-1zM339 272h1v3h-1zM339 278h1v3h-1zM339 284h1v3h-1zM339 290h1v3h-1zM339 296h1v3h-1zM339 302h1v3h-1zM339 308h1v3h-1zM339 314h1v3h-1zM339 326h1v3h-1zM339 332h1v3h-1zM339 338h1v3h-1zM339 344h1v3h-1zM339 350h1v3h-1zM339 356h1v3h-1zM339 362h1v3h-1zM339 368h1v3h-1zM339 374h1v3h-1zM339 380h1v3h-1zM339 387h1v2h-1zM339 392h1v3h-1zM339 398h1v3h-1zM339 404h1v3h-1zM339 410h1v3h-1zM339 416h1v3h-1zM339 422h1v3h-1zM339 428h1v3h-1zM339 434h1v3h-1zM339 440h1v3h-1zM339 446h1v3h-1zM387 3h1v2h-1zM387 8h1v3h-1zM387 14h1v3h-1zM387 20h1v3h-1zM387 26h1v3h-1zM387 32h1v3h-1zM387 38h1v3h-1zM387 44h1v3h-1zM387 50h1v3h-1zM387 56h1v3h-1zM387 62h1v3h-1zM387 68h1v3h-1zM387 74h1v3h-1zM387 80h1v3h-1zM387 86h1v3h-1zM387 92h1v3h-1zM387 98h1v3h-1zM387 104h1v3h-1zM387 110h1v3h-1zM387 116h1v3h-1zM387 122h1v3h-1zM387 128h1v3h-1zM387 134h1v3h-1zM387 140h1v3h-1zM387 146h1v3h-1zM387 152h1v3h-1zM387 158h1v3h-1zM387 164h1v3h-1zM387 170h1v3h-1zM387 176h1v3h-1zM387 182h1v3h-1zM387 188h1v3h-1zM387 194h1v3h-1zM387 200h1v3h-1zM387 206h1v3h-1zM387 212h1v3h-1zM387 218h1v3h-1zM387 224h1v3h-1zM387 230h1v3h-1zM387 236h1v3h-1zM387 242h1v3h-1zM387 248h1v3h-1zM387 254h1v3h-1zM387 260h1v3h-1zM387 266h1v3h-1zM387 272h1v3h-1zM387 278h1v3h-1zM387 284h1v3h-1zM387 290h1v3h-1zM387 296h1v3h-1zM387 302h1v3h-1zM387 308h1v3h-1zM387 314h1v3h-1zM387 326h1v3h-1zM387 332h1v3h-1zM387 338h1v3h-1zM387 344h1v3h-1zM387 350h1v3h-1zM387 356h1v3h-1zM387 362h1v3h-1zM387 368h1v3h-1zM387 374h1v3h-1zM387 380h1v3h-1zM387 387h1v2h-1zM387 392h1v3h-1zM387 398h1v3h-1zM387 404h1v3h-1zM387 410h1v3h-1zM387 416h1v3h-1zM387 422h1v3h-1zM387 428h1v3h-1zM387 434h1v3h-1zM387 440h1v3h-1zM387 446h1v3h-1zM435 3h1v2h-1zM435 8h1v3h-1zM435 14h1v3h-1zM435 20h1v3h-1zM435 26h1v3h-1zM435 32h1v3h-1zM435 38h1v3h-1zM435 44h1v3h-1zM435 50h1v3h-1zM435 56h1v3h-1zM435 62h1v3h-1zM435 68h1v3h-1zM435 74h1v3h-1zM435 80h1v3h-1zM435 86h1v3h-1zM435 92h1v3h-1zM435 98h1v3h-1zM435 104h1v3h-1zM435 110h1v3h-1zM435 116h1v3h-1zM435 122h1v3h-1zM435 128h1v3h-1zM435 134h1v3h-1zM435 140h1v3h-1zM435 146h1v3h-1zM435 152h1v3h-1zM435 158h1v3h-1zM435 164h1v3h-1zM435 170h1v3h-1zM435 176h1v3h-1zM435 182h1v3h-1zM435 188h1v3h-1zM435 194h1v3h-1zM435 200h1v3h-1zM435 206h1v3h-1zM435 212h1v3h-1zM435 218h1v3h-1zM435 224h1v3h-1zM435 230h1v3h-1zM435 236h1v3h-1zM435 242h1v3h-1zM435 248h1v3h-1zM435 254h1v3h-1zM435 260h1v3h-1zM435 266h1v3h-1zM435 272h1v3h-1zM435 278h1v3h-1zM435 284h1v3h-1zM435 290h1v3h-1zM435 296h1v3h-1zM435 302h1v3h-1zM435 308h1v3h-1zM435 314h1v3h-1zM435 326h1v3h-1zM435 332h1v3h-1zM435 338h1v3h-1zM435 344h1v3h-1zM435 350h1v3h-1zM435 356h1v3h-1zM435 362h1v3h-1zM435 368h1v3h-1zM435 374h1v3h-1zM435 380h1v3h-1zM435 387h1v2h-1zM435 392h1v3h-1zM435 398h1v3h-1zM435 404h1v3h-1zM435 410h1v3h-1zM435 416h1v3h-1zM435 422h1v3h-1zM435 428h1v3h-1zM435 434h1v3h-1zM435 440h1v3h-1zM435 446h1v3h-1zM483 3h1v2h-1zM483 8h1v3h-1zM483 14h1v3h-1zM483 20h1v3h-1zM483 26h1v3h-1zM483 32h1v3h-1zM483 38h1v3h-1zM483 44h1v3h-1zM483 50h1v3h-1zM483 56h1v3h-1zM483 62h1v3h-1zM483 68h1v3h-1zM483 74h1v3h-1zM483 80h1v3h-1zM483 86h1v3h-1zM483 92h1v3h-1zM483 98h1v3h-1zM483 104h1v3h-1zM483 110h1v3h-1zM483 116h1v3h-1zM483 122h1v3h-1zM483 128h1v3h-1zM483 134h1v3h-1zM483 140h1v3h-1zM483 146h1v3h-1zM483 152h1v3h-1zM483 158h1v3h-1zM483 164h1v3h-1zM483 170h1v3h-1zM483 176h1v3h-1zM483 182h1v3h-1zM483 188h1v3h-1zM483 194h1v3h-1zM483 200h1v3h-1zM483 206h1v3h-1zM483 212h1v3h-1zM483 218h1v3h-1zM483 224h1v3h-1zM483 230h1v3h-1zM483 236h1v3h-1zM483 242h1v3h-1zM483 248h1v3h-1zM483 254h1v3h-1zM483 260h1v3h-1zM483 266h1v3h-1zM483 272h1v3h-1zM483 278h1v3h-1zM483 284h1v3h-1zM483 290h1v3h-1zM483 296h1v3h-1zM483 302h1v3h-1zM483 308h1v3h-1zM483 314h1v3h-1zM483 326h1v3h-1zM483 332h1v3h-1zM483 338h1v3h-1zM483 344h1v3h-1zM483 350h1v3h-1zM483 356h1v3h-1zM483 362h1v3h-1zM483 368h1v3h-1zM483 374h1v3h-1zM483 380h1v3h-1zM483 387h1v2h-1zM483 392h1v3h-1zM483 398h1v3h-1zM483 404h1v3h-1zM483 410h1v3h-1zM483 416h1v3h-1zM483 422h1v3h-1zM483 428h1v3h-1zM483 434h1v3h-1zM483 440h1v3h-1zM483 446h1v3h-1zM531 3h1v2h-1zM531 8h1v3h-1zM531 14h1v3h-1zM531 20h1v3h-1zM531 26h1v3h-1zM531 32h1v3h-1zM531 38h1v3h-1zM531 44h1v3h-1zM531 50h1v3h-1zM531 56h1v3h-1zM531 62h1v3h-1zM531 68h1v3h-1zM531 74h1v3h-1zM531 80h1v3h-1zM531 86h1v3h-1zM531 92h1v3h-1zM531 98h1v3h-1zM531 104h1v3h-1zM531 110h1v3h-1zM531 116h1v3h-1zM531 122h1v3h-1zM531 128h1v3h-1zM531 134h1v3h-1zM531 140h1v3h-1zM531 146h1v3h-1zM531 152h1v3h-1zM531 158h1v3h-1zM531 164h1v3h-1zM531 170h1v3h-1zM531 176h1v3h-1zM531 182h1v3h-1zM531 188h1v3h-1zM531 194h1v3h-1zM531 200h1v3h-1zM531 206h1v3h-1zM531 212h1v3h-1zM531 218h1v3h-1zM531 224h1v3h-1zM531 230h1v3h-1zM531 236h1v3h-1zM531 242h1v3h-1zM531 248h1v3h-1zM531 254h1v3h-1zM531 260h1v3h-1zM531 266h1v3h-1zM531 272h1v3h-1zM531 278h1v3h-1zM531 284h1v3h-1zM531 290h1v3h-1zM531 296h1v3h-1zM531 302h1v3h-1zM531 308h1v3h-1zM531 314h1v3h-1zM531 326h1v3h-1zM531 332h1v3h-1zM531 338h1v3h-1zM531 344h1v3h-1zM531 350h1v3h-1zM531 356h1v3h-1zM531 362h1v3h-1zM531 368h1v3h-1zM531 374h1v3h-1zM531 380h1v3h-1zM531 387h1v2h-1zM531 392h1v3h-1zM531 398h1v3h-1zM531 404h1v3h-1zM531 410h1v3h-1zM531 416h1v3h-1zM531 422h1v3h-1zM531 428h1v3h-1zM531 434h1v3h-1zM531 440h1v3h-1zM531 446h1v3h-1zM579 3h1v2h-1zM579 8h1v3h-1zM579 14h1v3h-1zM579 20h1v3h-1zM579 26h1v3h-1zM579 32h1v3h-1zM579 38h1v3h-1zM579 44h1v3h-1zM579 50h1v3h-1zM579 56h1v3h-1zM579 62h1v3h-1zM579 68h1v3h-1zM579 74h1v3h-1zM579 80h1v3h-1zM579 86h1v3h-1zM579 92h1v3h-1zM579 98h1v3h-1zM579 104h1v3h-1zM579 110h1v3h-1zM579 116h1v3h-1zM579 122h1v3h-1zM579 128h1v3h-1zM579 134h1v3h-1zM579 140h1v3h-1zM579 146h1v3h-1zM579 152h1v3h-1zM579 158h1v3h-1zM579 164h1v3h-1zM579 170h1v3h-1zM579 176h1v3h-1zM579 182h1v3h-1zM579 188h1v3h-1zM579 194h1v3h-1zM579 200h1v3h-1zM579 206h1v3h-1zM579 212h1v3h-1zM579 218h1v3h-1zM579 224h1v3h-1zM579 230h1v3h-1zM579 236h1v3h-1zM579 242h1v3h-1zM579 248h1v3h-1zM579 254h1v3h-1zM579 260h1v3h-1zM579 266h1v3h-1zM579 272h1v3h-1zM579 278h1v3h-1zM579 284h1v3h-1zM579 290h1v3h-1zM579 296h1v3h-1zM579 302h1v3h-1zM579 308h1v3h-1zM579 314h1v3h-1zM579 326h1v3h-1zM579 332h1v3h-1zM579 338h1v3h-1zM579 344h1v3h-1zM579 350h1v3h-1zM579 356h1v3h-1zM579 362h1v3h-1zM579 368h1v3h-1zM579 374h1v3h-1zM579 380h1v3h-1zM579 387h1v2h-1zM579 392h1v3h-1zM579 398h1v3h-1zM579 404h1v3h-1zM579 410h1v3h-1zM579 416h1v3h-1zM579 422h1v3h-1zM579 428h1v3h-1zM579 434h1v3h-1zM579 440h1v3h-1zM579 446h1v3h-1zM627 3h1v2h-1zM627 8h1v3h-1zM627 14h1v3h-1zM627 20h1v3h-1zM627 26h1v3h-1zM627 32h1v3h-1zM627 38h1v3h-1zM627 44h1v3h-1zM627 50h1v3h-1zM627 56h1v3h-1zM627 62h1v3h-1zM627 68h1v3h-1zM627 74h1v3h-1zM627 80h1v3h-1zM627 86h1v3h-1zM627 92h1v3h-1zM627 98h1v3h-1zM627 104h1v3h-1zM627 110h1v3h-1zM627 116h1v3h-1zM627 122h1v3h-1zM627 128h1v3h-1zM627 134h1v3h-1zM627 140h1v3h-1zM627 146h1v3h-1zM627 152h1v3h-1zM627 158h1v3h-1zM627 164h1v3h-1zM627 170h1v3h-1zM627 176h1v3h-1zM627 182h1v3h-1zM627 188h1v3h-1zM627 194h1v3h-1zM627 200h1v3h-1zM627 206h1v3h-1zM627 212h1v3h-1zM627 218h1v3h-1zM627 224h1v3h-1zM627 230h1v3h-1zM627 236h1v3h-1zM627 242h1v3h-1zM627 248h1v3h-1zM627 254h1v3h-1zM627 260h1v3h-1zM627 266h1v3h-1zM627 272h1v3h-1zM627 278h1v3h-1zM627 284h1v3h-1zM627 290h1v3h-1zM627 296h1v3h-1zM627 302h1v3h-1zM627 308h1v3h-1zM627 314h1v3h-1zM627 326h1v3h-1zM627 332h1v3h-1zM627 338h1v3h-1zM627 344h1v3h-1zM627 350h1v3h-1zM627 356h1v3h-1zM627 362h1v3h-1zM627 368h1v3h-1zM627 374h1v3h-1zM627 380h1v3h-1zM627 387h1v2h-1zM627 392h1v3h-1zM627 398h1v3h-1zM627 404h1v3h-1zM627 410h1v3h-1zM627 416h1v3h-1zM627 422h1v3h-1zM627 428h1v3h-1zM627 434h1v3h-1zM627 440h1v3h-1zM627 446h1v3h-1zM675 3h1v2h-1zM675 8h1v3h-1zM675 14h1v3h-1zM675 20h1v3h-1zM675 26h1v3h-1zM675 32h1v3h-1zM675 38h1v3h-1zM675 44h1v3h-1zM675 50h1v3h-1zM675 56h1v3h-1zM675 62h1v3h-1zM675 68h1v3h-1zM675 74h1v3h-1zM675 80h1v3h-1zM675 86h1v3h-1zM675 92h1v3h-1zM675 98h1v3h-1zM675 104h1v3h-1zM675 110h1v3h-1zM675 116h1v3h-1zM675 122h1v3h-1zM675 128h1v3h-1zM675 134h1v3h-1zM675 140h1v3h-1zM675 146h1v3h-1zM675 152h1v3h-1zM675 158h1v3h-1zM675 164h1v3h-1zM675 170h1v3h-1zM675 176h1v3h-1zM675 182h1v3h-1zM675 188h1v3h-1zM675 194h1v3h-1zM675 200h1v3h-1zM675 206h1v3h-1zM675 212h1v3h-1zM675 218h1v3h-1zM675 224h1v3h-1zM675 230h1v3h-1zM675 236h1v3h-1zM675 242h1v3h-1zM675 248h1v3h-1zM675 254h1v3h-1zM675 260h1v3h-1zM675 266h1v3h-1zM675 272h1v3h-1zM675 278h1v3h-1zM675 284h1v3h-1zM675 290h1v3h-1zM675 296h1v3h-1zM675 302h1v3h-1zM675 308h1v3h-1zM675 314h1v3h-1zM675 326h1v3h-1zM675 332h1v3h-1zM675 338h1v3h-1zM675 344h1v3h-1zM675 350h1v3h-1zM675 356h1v3h-1zM675 362h1v3h-1zM675 368h1v3h-1zM675 374h1v3h-1zM675 380h1v3h-1zM675 387h1v2h-1zM675 392h1v3h-1zM675 398h1v3h-1zM675 404h1v3h-1zM675 410h1v3h-1zM675 416h1v3h-1zM675 422h1v3h-1zM675 428h1v3h-1zM675 434h1v3h-1zM675 440h1v3h-1zM675 446h1v3h-1zM723 3h1v2h-1zM723 8h1v3h-1zM723 14h1v3h-1zM723 20h1v3h-1zM723 26h1v3h-1zM723 32h1v3h-1zM723 38h1v3h-1zM723 44h1v3h-1zM723 50h1v3h-1zM723 56h1v3h-1zM723 62h1v3h-1zM723 68h1v3h-1zM723 74h1v3h-1zM723 80h1v3h-1zM723 86h1v3h-1zM723 92h1v3h-1zM723 98h1v3h-1zM723 104h1v3h-1zM723 110h1v3h-1zM723 116h1v3h-1zM723 122h1v3h-1zM723 128h1v3h-1zM723 134h1v3h-1zM723 140h1v3h-1zM723 146h1v3h-1zM723 152h1v3h-1zM723 158h1v3h-1zM723 164h1v3h-1zM723 170h1v3h-1zM723 176h1v3h-1zM723 182h1v3h-1zM723 188h1v3h-1zM723 194h1v3h-1zM723 200h1v3h-1zM723 206h1v3h-1zM723 212h1v3h-1zM723 218h1v3h-1zM723 224h1v3h-1zM723 230h1v3h-1zM723 236h1v3h-1zM723 242h1v3h-1zM723 248h1v3h-1zM723 254h1v3h-1zM723 260h1v3h-1zM723 266h1v3h-1zM723 272h1v3h-1zM723 278h1v3h-1zM723 284h1v3h-1zM723 290h1v3h-1zM723 296h1v3h-1zM723 302h1v3h-1zM723 308h1v3h-1zM723 314h1v3h-1zM723 326h1v3h-1zM723 332h1v3h-1zM723 338h1v3h-1zM723 344h1v3h-1zM723 350h1v3h-1zM723 356h1v3h-1zM723 362h1v3h-1zM723 368h1v3h-1zM723 374h1v3h-1zM723 380h1v3h-1zM723 387h1v2h-1zM723 392h1v3h-1zM723 398h1v3h-1zM723 404h1v3h-1zM723 410h1v3h-1zM723 416h1v3h-1zM723 422h1v3h-1zM723 428h1v3h-1zM723 434h1v3h-1zM723 440h1v3h-1zM723 446h1v3h-1zM771 3h1v2h-1zM771 8h1v3h-1zM771 14h1v3h-1zM771 20h1v3h-1zM771 26h1v3h-1zM771 32h1v3h-1zM771 38h1v3h-1zM771 44h1v3h-1zM771 50h1v3h-1zM771 56h1v3h-1zM771 62h1v3h-1zM771 68h1v3h-1zM771 74h1v3h-1zM771 80h1v3h-1zM771 86h1v3h-1zM771 92h1v3h-1zM771 98h1v3h-1zM771 104h1v3h-1zM771 110h1v3h-1zM771 116h1v3h-1zM771 122h1v3h-1zM771 128h1v3h-1zM771 134h1v3h-1zM771 140h1v3h-1zM771 146h1v3h-1zM771 152h1v3h-1zM771 158h1v3h-1zM771 164h1v3h-1zM771 170h1v3h-1zM771 176h1v3h-1zM771 182h1v3h-1zM771 188h1v3h-1zM771 194h1v3h-1zM771 200h1v3h-1zM771 206h1v3h-1zM771 212h1v3h-1zM771 218h1v3h-1zM771 224h1v3h-1zM771 230h1v3h-1zM771 236h1v3h-1zM771 242h1v3h-1zM771 248h1v3h-1zM771 254h1v3h-1zM771 260h1v3h-1zM771 266h1v3h-1zM771 272h1v3h-1zM771 278h1v3h-1zM771 284h1v3h-1zM771 290h1v3h-1zM771 296h1v3h-1zM771 302h1v3h-1zM771 308h1v3h-1zM771 314h1v3h-1zM771 326h1v3h-1zM771 332h1v3h-1zM771 338h1v3h-1zM771 344h1v3h-1zM771 350h1v3h-1zM771 356h1v3h-1zM771 362h1v3h-1zM771 368h1v3h-1zM771 374h1v3h-1zM771 380h1v3h-1zM771 387h1v2h-1zM771 392h1v3h-1zM771 398h1v3h-1zM771 404h1v3h-1zM771 410h1v3h-1zM771 416h1v3h-1zM771 422h1v3h-1zM771 428h1v3h-1zM771 434h1v3h-1zM771 440h1v3h-1zM771 446h1v3h-1zM819 3h1v2h-1zM819 8h1v3h-1zM819 14h1v3h-1zM819 20h1v3h-1zM819 26h1v3h-1zM819 32h1v3h-1zM819 38h1v3h-1zM819 44h1v3h-1zM819 50h1v3h-1zM819 56h1v3h-1zM819 62h1v3h-1zM819 68h1v3h-1zM819 74h1v3h-1zM819 80h1v3h-1zM819 86h1v3h-1zM819 92h1v3h-1zM819 98h1v3h-1zM819 104h1v3h-1zM819 110h1v3h-1zM819 116h1v3h-1zM819 122h1v3h-1zM819 128h1v3h-1zM819 134h1v3h-1zM819 140h1v3h-1zM819 146h1v3h-1zM819 152h1v3h-1zM819 158h1v3h-1zM819 164h1v3h-1zM819 170h1v3h-1zM819 176h1v3h-1zM819 182h1v3h-1zM819 188h1v3h-1zM819 194h1v3h-1zM819 200h1v3h-1zM819 206h1v3h-1zM819 212h1v3h-1zM819 218h1v3h-1zM819 224h1v3h-1zM819 230h1v3h-1zM819 236h1v3h-1zM819 242h1v3h-1zM819 248h1v3h-1zM819 254h1v3h-1zM819 260h1v3h-1zM819 266h1v3h-1zM819 272h1v3h-1zM819 278h1v3h-1zM819 284h1v3h-1zM819 290h1v3h-1zM819 296h1v3h-1zM819 302h1v3h-1zM819 308h1v3h-1zM819 314h1v3h-1zM819 326h1v3h-1zM819 332h1v3h-1zM819 338h1v3h-1zM819 344h1v3h-1zM819 350h1v3h-1zM819 356h1v3h-1zM819 362h1v3h-1zM819 368h1v3h-1zM819 374h1v3h-1zM819 380h1v3h-1zM819 387h1v2h-1zM819 392h1v3h-1zM819 398h1v3h-1zM819 404h1v3h-1zM819 410h1v3h-1zM819 416h1v3h-1zM819 422h1v3h-1zM819 428h1v3h-1zM819 434h1v3h-1zM819 440h1v3h-1zM819 446h1v3h-1zM867 3h1v2h-1zM867 8h1v3h-1zM867 14h1v3h-1zM867 20h1v3h-1zM867 26h1v3h-1zM867 32h1v3h-1zM867 38h1v3h-1zM867 44h1v3h-1zM867 50h1v3h-1zM867 56h1v3h-1zM867 62h1v3h-1zM867 68h1v3h-1zM867 74h1v3h-1zM867 80h1v3h-1zM867 86h1v3h-1zM867 92h1v3h-1zM867 98h1v3h-1zM867 104h1v3h-1zM867 110h1v3h-1zM867 116h1v3h-1zM867 122h1v3h-1zM867 128h1v3h-1zM867 134h1v3h-1zM867 140h1v3h-1zM867 146h1v3h-1zM867 152h1v3h-1zM867 158h1v3h-1zM867 164h1v3h-1zM867 170h1v3h-1zM867 176h1v3h-1zM867 182h1v3h-1zM867 188h1v3h-1zM867 194h1v3h-1zM867 200h1v3h-1zM867 206h1v3h-1zM867 212h1v3h-1zM867 218h1v3h-1zM867 224h1v3h-1zM867 230h1v3h-1zM867 236h1v3h-1zM867 242h1v3h-1zM867 248h1v3h-1zM867 254h1v3h-1zM867 260h1v3h-1zM867 266h1v3h-1zM867 272h1v3h-1zM867 278h1v3h-1zM867 284h1v3h-1zM867 290h1v3h-1zM867 296h1v3h-1zM867 302h1v3h-1zM867 308h1v3h-1zM867 314h1v3h-1zM867 326h1v3h-1zM867 332h1v3h-1zM867 338h1v3h-1zM867 344h1v3h-1zM867 350h1v3h-1zM867 356h1v3h-1zM867 362h1v3h-1zM867 368h1v3h-1zM867 374h1v3h-1zM867 380h1v3h-1zM867 387h1v2h-1zM867 392h1v3h-1zM867 398h1v3h-1zM867 404h1v3h-1zM867 410h1v3h-1zM867 416h1v3h-1zM867 422h1v3h-1zM867 428h1v3h-1zM867 434h1v3h-1zM867 440h1v3h-1zM867 446h1v3h-1zM915 3h1v2h-1zM915 8h1v3h-1zM915 14h1v3h-1zM915 20h1v3h-1zM915 26h1v3h-1zM915 32h1v3h-1zM915 38h1v3h-1zM915 44h1v3h-1zM915 50h1v3h-1zM915 56h1v3h-1zM915 62h1v3h-1zM915 68h1v3h-1zM915 74h1v3h-1zM915 80h1v3h-1zM915 86h1v3h-1zM915 92h1v3h-1zM915 98h1v3h-1zM915 104h1v3h-1zM915 110h1v3h-1zM915 116h1v3h-1zM915 122h1v3h-1zM915 128h1v3h-1zM915 134h1v3h-1zM915 140h1v3h-1zM915 146h1v3h-1zM915 152h1v3h-1zM915 158h1v3h-1zM915 164h1v3h-1zM915 170h1v3h-1zM915 176h1v3h-1zM915 182h1v3h-1zM915 188h1v3h-1zM915 194h1v3h-1zM915 200h1v3h-1zM915 206h1v3h-1zM915 212h1v3h-1zM915 218h1v3h-1zM915 224h1v3h-1zM915 230h1v3h-1zM915 236h1v3h-1zM915 242h1v3h-1zM915 248h1v3h-1zM915 254h1v3h-1zM915 260h1v3h-1zM915 266h1v3h-1zM915 272h1v3h-1zM915 278h1v3h-1zM915 284h1v3h-1zM915 290h1v3h-1zM915 296h1v3h-1zM915 302h1v3h-1zM915 308h1v3h-1zM915 314h1v3h-1zM915 326h1v3h-1zM915 332h1v3h-1zM915 338h1v3h-1zM915 344h1v3h-1zM915 350h1v3h-1zM915 356h1v3h-1zM915 362h1v3h-1zM915 368h1v3h-1zM915 374h1v3h-1zM915 380h1v3h-1zM915 387h1v2h-1zM915 392h1v3h-1zM915 398h1v3h-1zM915 404h1v3h-1zM915 410h1v3h-1zM915 416h1v3h-1zM915 422h1v3h-1zM915 428h1v3h-1zM915 434h1v3h-1zM915 440h1v3h-1zM915 446h1v3h-1z"/><rect x="3" y="143" width="913" height="1" fill="#c0c0c0"/><path fill="#000" d="M3 52h1v12h-1zM1 60h5v1h-5zM11 40h1v31h-1zM9 44h5v15h-5zM19 32h1v18h-1zM17 43h5v2h-5zM27 18h1v37h-1zM25 31h5v12h-5zM35 26h1v17h-1zM33 31h5v1h-5zM43 30h1v23h-1zM41 31h5v17h-5zM51 42h1v16h-1zM49 48h5v4h-5zM59 43h1v55h-1zM57 50h5v37h-5zM67 55h1v46h-1zM65 87h5v1h-5zM75 74h1v77h-1zM73 87h5v45h-5zM83 121h1v37h-1zM81 131h5v3h-5zM91 133h1v79h-1zM89 133h5v69h-5zM99 182h1v43h-1zM97 184h5v18h-5zM107 181h1v17h-1zM105 184h5v6h-5zM115 188h1v12h-1zM113 190h5v4h-5zM123 195h1v8h-1zM121 196h5v3h-5zM131 176h1v35h-1zM129 182h5v19h-5zM139 163h1v26h-1zM137 173h5v11h-5zM147 155h1v26h-1zM145 156h5v17h-5zM155 150h1v23h-1zM153 156h5v16h-5zM163 165h1v16h-1zM161 171h5v2h-5zM171 166h1v21h-1zM169 172h5v2h-5zM179 160h1v26h-1zM177 171h5v6h-5zM187 169h1v42h-1zM185 175h5v32h-5zM195 200h1v39h-1zM193 202h5v5h-5zM203 177h1v32h-1zM201 186h5v17h-5zM211 165h1v23h-1zM209 175h5v12h-5zM219 156h1v37h-1zM217 166h5v10h-5zM227 155h1v48h-1zM225 166h5v32h-5zM235 172h1v34h-1zM233 195h5v3h-5zM243 191h1v35h-1zM241 195h5v24h-5zM251 208h1v69h-1zM249 218h5v47h-5zM259 238h1v43h-1zM257 242h5v23h-5zM267 216h1v36h-1zM265 239h5v4h-5zM275 219h1v24h-1zM273 227h5v13h-5zM283 204h1v26h-1zM281 210h5v18h-5zM291 201h1v11h-1zM289 203h5v8h-5zM299 206h1v8h-1zM297 207h5v6h-5zM307 203h1v21h-1zM305 212h5v7h-5zM315 212h1v27h-1zM313 218h5v2h-5zM323 218h1v36h-1zM321 218h5v21h-5zM331 236h1v14h-1zM329 238h5v4h-5zM339 240h1v8h-1zM337 242h5v2h-5zM347 219h1v31h-1zM345 225h5v19h-5zM355 202h1v27h-1zM353 208h5v18h-5zM363 201h1v29h-1zM361 202h5v7h-5zM371 190h1v32h-1zM369 202h5v13h-5zM379 200h1v23h-1zM377 213h5v1h-5zM387 209h1v29h-1zM385 212h5v24h-5zM395 222h1v21h-1zM393 229h5v8h-5zM403 203h1v28h-1zM401 207h5v23h-5zM411 197h1v43h-1zM409 207h5v19h-5zM419 212h1v33h-1zM417 225h5v18h-5zM427 198h1v48h-1zM425 217h5v27h-5zM435 202h1v22h-1zM433 214h5v5h-5zM443 192h1v27h-1zM441 202h5v13h-5zM451 160h1v46h-1zM449 176h5v27h-5zM459 171h1v12h-1zM457 176h5v5h-5zM467 174h1v14h-1zM465 180h5v5h-5zM475 176h1v28h-1zM473 179h5v13h-5zM483 190h1v33h-1zM481 191h5v29h-5zM491 208h1v26h-1zM489 220h5v6h-5zM499 220h1v21h-1zM497 225h5v13h-5zM507 236h1v21h-1zM505 237h5v3h-5zM515 229h1v16h-1zM513 239h5v3h-5zM523 233h1v15h-1zM521 234h5v8h-5zM531 225h1v18h-1zM529 225h5v12h-5zM539 221h1v16h-1zM537 225h5v5h-5zM547 224h1v26h-1zM545 229h5v2h-5zM555 209h1v36h-1zM553 231h5v5h-5zM563 229h1v21h-1zM561 236h5v7h-5zM571 236h1v36h-1zM569 242h5v17h-5zM579 254h1v56h-1zM577 258h5v51h-5zM587 281h1v32h-1zM585 286h5v23h-5zM595 267h1v31h-1zM593 284h5v2h-5zM603 259h1v35h-1zM601 264h5v21h-5zM611 248h1v39h-1zM609 263h5v19h-5zM619 278h1v24h-1zM617 280h5v20h-5zM627 290h1v11h-1zM625 296h5v4h-5zM635 271h1v31h-1zM633 295h5v2h-5zM643 273h1v23h-1zM641 275h5v21h-5zM651 270h1v11h-1zM649 270h5v7h-5zM659 267h1v7h-1zM657 270h5v3h-5zM667 260h1v23h-1zM665 263h5v8h-5zM675 254h1v16h-1zM673 257h5v7h-5zM683 236h1v29h-1zM681 241h5v18h-5zM691 234h1v14h-1zM689 241h5v5h-5zM699 244h1v10h-1zM697 245h5v8h-5zM707 233h1v25h-1zM705 238h5v15h-5zM715 212h1v32h-1zM713 214h5v25h-5zM723 206h1v33h-1zM721 215h5v24h-5zM731 209h1v42h-1zM729 209h5v30h-5zM739 199h1v23h-1zM737 209h5v4h-5zM747 175h1v39h-1zM745 183h5v31h-5zM755 175h1v20h-1zM753 181h5v3h-5zM763 171h1v28h-1zM761 181h5v11h-5zM771 146h1v51h-1zM769 147h5v45h-5zM779 121h1v41h-1zM777 134h5v14h-5zM787 112h1v24h-1zM785 119h5v16h-5zM795 118h1v29h-1zM793 119h5v16h-5zM803 123h1v26h-1zM801 134h5v6h-5zM811 123h1v17h-1zM809 133h5v7h-5zM819 133h1v13h-1zM817 133h5v5h-5zM827 125h1v13h-1zM825 126h5v11h-5zM835 128h1v12h-1zM833 129h5v6h-5zM843 114h1v14h-1zM841 119h5v8h-5zM851 117h1v24h-1zM849 126h5v1h-5zM859 121h1v12h-1zM857 123h5v4h-5zM867 121h1v21h-1zM865 123h5v17h-5zM875 138h1v10h-1zM873 139h5v9h-5zM883 119h1v34h-1zM881 127h5v21h-5zM891 127h1v17h-1zM889 127h5v11h-5zM899 137h1v12h-1zM897 137h5v7h-5z"/><path fill="#fff" d="M10 45h3v13h-3zM26 32h3v10h-3zM98 185h3v16h-3zM130 183h3v17h-3zM138 174h3v9h-3zM146 157h3v15h-3zM194 203h3v3h-3zM202 187h3v15h-3zM210 176h3v10h-3zM218 167h3v8h-3zM234 196h3v1h-3zM258 243h3v21h-3zM266 240h3v2h-3zM274 228h3v11h-3zM282 211h3v16h-3zM290 204h3v6h-3zM298 208h3v4h-3zM346 226h3v17h-3zM354 209h3v16h-3zM362 203h3v5h-3zM394 230h3v6h-3zM402 208h3v21h-3zM426 218h3v25h-3zM434 215h3v3h-3zM442 203h3v11h-3zM450 177h3v25h-3zM522 235h3v6h-3zM530 226h3v10h-3zM586 287h3v21h-3zM602 265h3v19h-3zM626 297h3v2h-3zM642 276h3v19h-3zM650 271h3v5h-3zM658 271h3v1h-3zM666 264h3v6h-3zM674 258h3v5h-3zM682 242h3v16h-3zM706 239h3v13h-3zM714 215h3v23h-3zM730 210h3v28h-3zM746 184h3v29h-3zM754 182h3v1h-3zM770 148h3v43h-3zM778 135h3v12h-3zM786 120h3v14h-3zM810 134h3v5h-3zM826 127h3v9h-3zM858 124h3v2h-3zM882 128h3v19h-3z"/><path fill="#a018f5" d="M3 58h5v1h-5zM8 59h8v1h-8zM16 60h8v1h-8zM24 61h8v1h-8zM32 62h16v1h-16zM48 63h8v1h-8zM56 64h8v1h-8zM64 65h4v1h-4zM68 66h2v1h-2zM70 67h2v1h-2zM72 68h1v1h-1zM73 69h2v1h-2zM75 70h2v1h-2zM77 71h3v1h-3zM80 72h2v1h-2zM82 73h3v1h-3zM85 74h2v1h-2zM87 75h2v1h-2zM89 76h2v1h-2zM91 77h1v1h-1zM92 78h2v1h-2zM94 79h2v1h-2zM96 80h1v1h-1zM97 81h2v1h-2zM99 82h1v1h-1zM100 83h2v1h-2zM102 84h2v1h-2zM104 85h1v1h-1zM105 86h2v1h-2zM107 87h1v1h-1zM108 88h2v1h-2zM110 89h2v1h-2zM112 90h1v1h-1zM113 91h2v1h-2zM115 92h1v1h-1zM116 93h2v1h-2zM118 94h2v1h-2zM120 95h1v1h-1zM121 96h2v1h-2zM123 97h1v1h-1zM124 98h1v1h-1zM125 99h1v1h-1zM126 100h2v1h-2zM128 101h1v1h-1zM129 102h1v1h-1zM130 103h1v1h-1zM131 104h1v1h-1zM132 105h2v1h-2zM134 106h2v1h-2zM136 107h1v1h-1zM137 108h2v1h-2zM139 109h1v1h-1zM140 110h2v1h-2zM142 111h2v1h-2zM144 112h1v1h-1zM145 113h2v1h-2zM147 114h1v1h-1zM148 115h2v1h-2zM150 116h1v1h-1zM151 117h1v1h-1zM152 118h2v1h-2zM154 119h1v1h-1zM155 120h1v1h-1zM156 121h2v1h-2zM158 122h2v1h-2zM160 123h1v1h-1zM161 124h2v1h-2zM163 125h1v1h-1zM164 126h2v1h-2zM166 127h1v1h-1zM167 128h1v1h-1zM168 129h2v1h-2zM170 130h1v1h-1zM171 131h1v1h-1zM172 132h1v1h-1zM173 133h1v1h-1zM174 134h2v1h-2zM176 135h1v1h-1zM177 136h1v1h-1zM178 137h1v1h-1zM179 138h1v1h-1zM180 139h1v1h-1zM181 140h1v1h-1zM182 141h1v1h-1zM898 141h2v1h-2zM183 142h1v1h-1zM896 142h2v1h-2zM184 143h1v1h-1zM893 143h3v1h-3zM185 144h1v1h-1zM891 144h2v1h-2zM186 145h1v1h-1zM889 145h2v1h-2zM187 146h1v1h-1zM887 146h2v1h-2zM188 147h1v1h-1zM885 147h2v1h-2zM189 148h1v1h-1zM883 148h2v1h-2zM190 149h1v1h-1zM882 149h1v1h-1zM191 150h1v1h-1zM880 150h2v1h-2zM192 151h1v1h-1zM879 151h1v1h-1zM193 152h1v1h-1zM878 152h1v1h-1zM194 153h1v1h-1zM876 153h2v1h-2zM195 154h1v1h-1zM875 154h1v1h-1zM196 155h2v1h-2zM873 155h2v1h-2zM198 156h1v1h-1zM871 156h2v1h-2zM199 157h1v1h-1zM869 157h2v1h-2zM200 158h2v1h-2zM867 158h2v1h-2zM202 159h1v1h-1zM865 159h2v1h-2zM203 160h1v1h-1zM864 160h1v1h-1zM204 161h1v1h-1zM862 161h2v1h-2zM205 162h1v1h-1zM860 162h2v1h-2zM206 163h2v1h-2zM859 163h1v1h-1zM208 164h1v1h-1zM858 164h1v1h-1zM209 165h1v1h-1zM857 165h1v1h-1zM210 166h1v1h-1zM856 166h1v1h-1zM211 167h1v1h-1zM854 167h2v1h-2zM212 168h2v1h-2zM853 168h1v1h-1zM214 169h1v1h-1zM852 169h1v1h-1zM215 170h1v1h-1zM851 170h1v1h-1zM216 171h2v1h-2zM850 171h1v1h-1zM218 172h1v1h-1zM848 172h2v1h-2zM219 173h2v1h-2zM847 173h1v1h-1zM221 174h2v1h-2zM846 174h1v1h-1zM223 175h2v1h-2zM844 175h2v1h-2zM225 176h2v1h-2zM843 176h1v1h-1zM227 177h2v1h-2zM841 177h2v1h-2zM229 178h2v1h-2zM840 178h1v1h-1zM231 179h2v1h-2zM838 179h2v1h-2zM233 180h2v1h-2zM836 180h2v1h-2zM235 181h1v1h-1zM835 181h1v1h-1zM236 182h2v1h-2zM834 182h1v1h-1zM238 183h2v1h-2zM832 183h2v1h-2zM240 184h1v1h-1zM831 184h1v1h-1zM241 185h2v1h-2zM830 185h1v1h-1zM243 186h2v1h-2zM828 186h2v1h-2zM245 187h2v1h-2zM827 187h1v1h-1zM247 188h2v1h-2zM826 188h1v1h-1zM249 189h2v1h-2zM824 189h2v1h-2zM251 190h3v1h-3zM823 190h1v1h-1zM254 191h4v1h-4zM822 191h1v1h-1zM258 192h4v1h-4zM820 192h2v1h-2zM262 193h4v1h-4zM819 193h1v1h-1zM266 194h4v1h-4zM818 194h1v1h-1zM270 195h4v1h-4zM817 195h1v1h-1zM274 196h14v1h-14zM816 196h1v1h-1zM288 197h6v1h-6zM814 197h2v1h-2zM294 198h4v1h-4zM813 198h1v1h-1zM298 199h3v1h-3zM812 199h1v1h-1zM301 200h3v1h-3zM811 200h1v1h-1zM304 201h2v1h-2zM810 201h1v1h-1zM306 202h3v1h-3zM809 202h1v1h-1zM309 203h3v1h-3zM808 203h1v1h-1zM312 204h2v1h-2zM806 204h2v1h-2zM314 205h3v1h-3zM805 205h1v1h-1zM317 206h3v1h-3zM804 206h1v1h-1zM320 207h2v1h-2zM803 207h1v1h-1zM322 208h3v1h-3zM802 208h1v1h-1zM325 209h3v1h-3zM801 209h1v1h-1zM328 210h2v1h-2zM800 210h1v1h-1zM330 211h3v1h-3zM798 211h2v1h-2zM333 212h2v1h-2zM496 212h8v1h-8zM797 212h1v1h-1zM335 213h2v1h-2zM480 213h16v1h-16zM504 213h6v1h-6zM796 213h1v1h-1zM337 214h2v1h-2zM474 214h6v1h-6zM510 214h4v1h-4zM795 214h1v1h-1zM339 215h5v1h-5zM470 215h4v1h-4zM514 215h6v1h-6zM794 215h1v1h-1zM344 216h16v1h-16zM464 216h6v1h-6zM520 216h8v1h-8zM793 216h1v1h-1zM360 217h6v1h-6zM458 217h6v1h-6zM528 217h8v1h-8zM544 217h8v1h-8zM792 217h1v1h-1zM366 218h4v1h-4zM454 218h4v1h-4zM536 218h8v1h-8zM552 218h6v1h-6zM791 218h1v1h-1zM370 219h4v1h-4zM448 219h6v1h-6zM558 219h4v1h-4zM791 219h1v1h-1zM374 220h4v1h-4zM440 220h8v1h-8zM562 220h6v1h-6zM790 220h1v1h-1zM378 221h4v1h-4zM424 221h16v1h-16zM568 221h5v1h-5zM789 221h1v1h-1zM382 222h4v1h-4zM416 222h8v1h-8zM573 222h3v1h-3zM788 222h1v1h-1zM386 223h4v1h-4zM408 223h8v1h-8zM576 223h2v1h-2zM787 223h1v1h-1zM390 224h4v1h-4zM400 224h8v1h-8zM578 224h3v1h-3zM786 224h1v1h-1zM394 225h6v1h-6zM581 225h2v1h-2zM785 225h1v1h-1zM583 226h2v1h-2zM784 226h1v1h-1zM585 227h2v1h-2zM783 227h1v1h-1zM587 228h2v1h-2zM783 228h1v1h-1zM589 229h3v1h-3zM782 229h1v1h-1zM592 230h2v1h-2zM781 230h1v1h-1zM594 231h3v1h-3zM780 231h1v1h-1zM597 232h2v1h-2zM779 232h1v1h-1zM599 233h2v1h-2zM778 233h1v1h-1zM601 234h2v1h-2zM777 234h1v1h-1zM603 235h1v1h-1zM776 235h1v1h-1zM604 236h2v1h-2zM774 236h2v1h-2zM606 237h2v1h-2zM773 237h1v1h-1zM608 238h1v1h-1zM772 238h1v1h-1zM609 239h2v1h-2zM771 239h1v1h-1zM611 240h1v1h-1zM770 240h1v1h-1zM612 241h2v1h-2zM769 241h1v1h-1zM614 242h1v1h-1zM768 242h1v1h-1zM615 243h1v1h-1zM767 243h1v1h-1zM616 244h2v1h-2zM766 244h1v1h-1zM618 245h1v1h-1zM765 245h1v1h-1zM619 246h1v1h-1zM764 246h1v1h-1zM620 247h2v1h-2zM762 247h2v1h-2zM622 248h2v1h-2zM760 248h2v1h-2zM624 249h1v1h-1zM757 249h3v1h-3zM625 250h2v1h-2zM755 250h2v1h-2zM627 251h1v1h-1zM753 251h2v1h-2zM628 252h2v1h-2zM751 252h2v1h-2zM630 253h2v1h-2zM749 253h2v1h-2zM632 254h1v1h-1zM747 254h2v1h-2zM633 255h2v1h-2zM745 255h2v1h-2zM635 256h2v1h-2zM744 256h1v1h-1zM637 257h3v1h-3zM742 257h2v1h-2zM640 258h2v1h-2zM740 258h2v1h-2zM642 259h3v1h-3zM739 259h1v1h-1zM645 260h3v1h-3zM737 260h2v1h-2zM648 261h2v1h-2zM735 261h2v1h-2zM650 262h6v1h-6zM733 262h2v1h-2zM656 263h8v1h-8zM731 263h2v1h-2zM664 264h8v1h-8zM729 264h2v1h-2zM672 265h16v1h-16zM727 265h2v1h-2zM688 266h6v1h-6zM725 266h2v1h-2zM694 267h4v1h-4zM712 267h13v1h-13zM698 268h14v1h-14z"/><path fill="#0a0a38" d="M3 351h1v5h-1zM11 351h1v4h-1zM19 351h1v2h-1zM35 351h1v1h-1zM43 351h1v1h-1zM51 351h1v1h-1zM59 351h1v1h-1zM67 351h1v3h-1zM75 351h1v7h-1zM83 351h1v11h-1zM91 351h1v18h-1zM99 351h1v22h-1zM107 351h1v25h-1zM115 351h1v28h-1zM123 351h1v30h-1zM131 351h1v30h-1zM139 351h1v29h-1zM147 351h1v27h-1zM155 351h1v26h-1zM163 351h1v25h-1zM171 351h1v24h-1zM179 351h1v23h-1zM187 351h1v24h-1zM195 351h1v25h-1zM203 351h1v24h-1zM211 351h1v22h-1zM219 351h1v20h-1zM227 351h1v20h-1zM235 351h1v19h-1zM243 351h1v20h-1zM251 351h1v24h-1zM259 351h1v25h-1zM267 351h1v25h-1zM275 351h1v24h-1zM283 351h1v22h-1zM291 351h1v20h-1zM299 351h1v18h-1zM307 351h1v18h-1zM315 351h1v17h-1zM323 351h1v17h-1zM331 351h1v17h-1zM339 351h1v18h-1zM347 351h1v16h-1zM355 351h1v14h-1zM363 351h1v12h-1zM371 351h1v11h-1zM379 351h1v10h-1zM387 351h1v10h-1zM395 351h1v10h-1zM403 351h1v8h-1zM411 351h1v8h-1zM419 351h1v9h-1zM427 351h1v8h-1zM435 351h1v7h-1zM443 351h1v5h-1zM451 351h1v2h-1zM459 351h1v1h-1zM467 351h1v1h-1zM475 350h1v2h-1zM483 351h1v1h-1zM491 351h1v1h-1zM499 351h1v3h-1zM507 351h1v4h-1zM515 351h1v5h-1zM523 351h1v6h-1zM531 351h1v6h-1zM539 351h1v6h-1zM547 351h1v6h-1zM555 351h1v5h-1zM563 351h1v7h-1zM571 351h1v8h-1zM579 351h1v12h-1zM587 351h1v14h-1zM595 351h1v15h-1zM603 351h1v15h-1zM611 351h1v15h-1zM619 351h1v16h-1zM627 351h1v17h-1zM635 351h1v17h-1zM643 351h1v16h-1zM651 351h1v15h-1zM659 351h1v13h-1zM667 351h1v12h-1zM675 351h1v10h-1zM683 351h1v7h-1zM691 351h1v6h-1zM699 351h1v5h-1zM707 351h1v3h-1zM723 351h1v1h-1zM731 349h1v3h-1zM739 347h1v5h-1zM747 344h1v8h-1zM755 342h1v10h-1zM763 340h1v12h-1zM771 337h1v15h-1zM779 333h1v19h-1zM787 330h1v22h-1zM795 329h1v23h-1zM803 328h1v24h-1zM811 327h1v25h-1zM819 328h1v24h-1zM827 327h1v25h-1zM835 328h1v24h-1zM843 328h1v24h-1zM851 327h1v25h-1zM859 329h1v23h-1zM867 330h1v22h-1zM875 332h1v20h-1zM883 333h1v19h-1zM891 334h1v18h-1zM899 336h1v16h-1z"/><path fill="#7328eb" d="M849 327h3v1h-3zM855 327h3v1h-3zM861 327h3v1h-3zM867 327h3v1h-3zM843 328h3v1h-3zM873 328h3v1h-3zM879 328h3v1h-3zM885 328h3v1h-3zM832 329h2v1h-2zM837 329h3v1h-3zM891 329h3v1h-3zM826 330h2v1h-2zM831 330h1v1h-1zM897 330h3v1h-3zM825 331h1v1h-1zM819 332h3v1h-3zM814 333h2v1h-2zM808 334h2v1h-2zM813 334h1v1h-1zM802 335h2v1h-2zM807 335h1v1h-1zM801 336h1v1h-1zM797 337h1v1h-1zM795 338h2v1h-2zM789 340h3v1h-3zM783 342h3v1h-3zM778 343h2v1h-2zM777 344h1v1h-1zM771 345h3v1h-3zM766 346h2v1h-2zM765 347h1v1h-1zM759 348h3v1h-3zM754 349h2v1h-2zM753 350h1v1h-1zM747 351h3v1h-3zM64 352h2v1h-2zM69 352h3v1h-3zM507 352h3v1h-3zM513 352h3v1h-3zM519 352h1v1h-1zM742 352h2v1h-2zM51 353h3v1h-3zM57 353h3v1h-3zM63 353h1v1h-1zM75 353h3v1h-3zM81 353h3v1h-3zM87 353h1v1h-1zM489 353h3v1h-3zM495 353h3v1h-3zM501 353h3v1h-3zM520 353h2v1h-2zM525 353h3v1h-3zM531 353h3v1h-3zM741 353h1v1h-1zM40 354h2v1h-2zM45 354h3v1h-3zM88 354h2v1h-2zM483 354h3v1h-3zM537 354h3v1h-3zM543 354h1v1h-1zM735 354h3v1h-3zM34 355h2v1h-2zM39 355h1v1h-1zM93 355h3v1h-3zM472 355h2v1h-2zM477 355h3v1h-3zM544 355h2v1h-2zM549 355h3v1h-3zM730 355h2v1h-2zM33 356h1v1h-1zM465 356h3v1h-3zM471 356h1v1h-1zM555 356h3v1h-3zM561 356h3v1h-3zM567 356h1v1h-1zM729 356h1v1h-1zM27 357h3v1h-3zM99 357h2v1h-2zM459 357h3v1h-3zM568 357h2v1h-2zM573 357h3v1h-3zM723 357h3v1h-3zM9 358h3v1h-3zM15 358h3v1h-3zM21 358h3v1h-3zM101 358h1v1h-1zM448 358h2v1h-2zM453 358h3v1h-3zM579 358h3v1h-3zM718 358h2v1h-2zM3 359h3v1h-3zM105 359h1v1h-1zM441 359h3v1h-3zM447 359h1v1h-1zM585 359h3v1h-3zM591 359h1v1h-1zM712 359h2v1h-2zM717 359h1v1h-1zM106 360h2v1h-2zM435 360h3v1h-3zM592 360h2v1h-2zM597 360h3v1h-3zM706 360h2v1h-2zM711 360h1v1h-1zM417 361h3v1h-3zM423 361h3v1h-3zM429 361h3v1h-3zM603 361h3v1h-3zM705 361h1v1h-1zM111 362h2v1h-2zM411 362h3v1h-3zM609 362h3v1h-3zM615 362h1v1h-1zM699 362h3v1h-3zM113 363h1v1h-1zM400 363h2v1h-2zM405 363h3v1h-3zM616 363h2v1h-2zM621 363h3v1h-3zM693 363h3v1h-3zM117 364h1v1h-1zM393 364h3v1h-3zM399 364h1v1h-1zM627 364h3v1h-3zM687 364h3v1h-3zM118 365h2v1h-2zM387 365h3v1h-3zM633 365h3v1h-3zM639 365h1v1h-1zM681 365h3v1h-3zM123 366h2v1h-2zM376 366h2v1h-2zM381 366h3v1h-3zM640 366h2v1h-2zM645 366h3v1h-3zM651 366h3v1h-3zM657 366h3v1h-3zM663 366h3v1h-3zM669 366h3v1h-3zM675 366h3v1h-3zM125 367h1v1h-1zM363 367h3v1h-3zM369 367h3v1h-3zM375 367h1v1h-1zM352 368h2v1h-2zM357 368h3v1h-3zM129 369h2v1h-2zM345 369h3v1h-3zM351 369h1v1h-1zM131 370h1v1h-1zM339 370h3v1h-3zM135 371h3v1h-3zM328 371h2v1h-2zM333 371h3v1h-3zM315 372h3v1h-3zM321 372h3v1h-3zM327 372h1v1h-1zM141 373h3v1h-3zM232 373h2v1h-2zM237 373h3v1h-3zM243 373h3v1h-3zM249 373h3v1h-3zM255 373h3v1h-3zM261 373h3v1h-3zM267 373h3v1h-3zM273 373h3v1h-3zM279 373h3v1h-3zM285 373h3v1h-3zM291 373h3v1h-3zM297 373h3v1h-3zM303 373h3v1h-3zM309 373h3v1h-3zM225 374h3v1h-3zM231 374h1v1h-1zM147 375h3v1h-3zM208 375h2v1h-2zM213 375h3v1h-3zM219 375h3v1h-3zM153 376h3v1h-3zM201 376h3v1h-3zM207 376h1v1h-1zM159 377h3v1h-3zM195 377h3v1h-3zM165 378h3v1h-3zM171 378h3v1h-3zM177 378h3v1h-3zM183 378h3v1h-3zM189 378h3v1h-3z"/><path fill="#e0006e" d="M784 404h5v1h-5zM776 405h8v1h-8zM789 405h3v1h-3zM771 406h5v1h-5zM792 406h2v1h-2zM769 407h2v1h-2zM794 407h6v1h-6zM824 407h6v1h-6zM768 408h1v1h-1zM800 408h24v1h-24zM830 408h4v1h-4zM840 408h21v1h-21zM747 409h11v1h-11zM766 409h2v1h-2zM834 409h6v1h-6zM861 409h2v1h-2zM745 410h2v1h-2zM758 410h4v1h-4zM764 410h2v1h-2zM863 410h2v1h-2zM715 411h1v1h-1zM743 411h2v1h-2zM762 411h2v1h-2zM865 411h2v1h-2zM882 411h4v1h-4zM713 412h2v1h-2zM716 412h2v1h-2zM731 412h5v1h-5zM741 412h2v1h-2zM867 412h3v1h-3zM880 412h2v1h-2zM886 412h4v1h-4zM451 413h5v1h-5zM711 413h2v1h-2zM718 413h1v1h-1zM729 413h2v1h-2zM736 413h5v1h-5zM870 413h4v1h-4zM877 413h3v1h-3zM890 413h4v1h-4zM26 414h11v1h-11zM449 414h2v1h-2zM456 414h8v1h-8zM709 414h2v1h-2zM719 414h1v1h-1zM728 414h1v1h-1zM874 414h3v1h-3zM894 414h4v1h-4zM22 415h4v1h-4zM37 415h2v1h-2zM447 415h2v1h-2zM464 415h8v1h-8zM706 415h3v1h-3zM720 415h2v1h-2zM726 415h2v1h-2zM898 415h2v1h-2zM10 416h12v1h-12zM39 416h2v1h-2zM445 416h2v1h-2zM472 416h4v1h-4zM682 416h6v1h-6zM704 416h2v1h-2zM722 416h1v1h-1zM724 416h2v1h-2zM8 417h2v1h-2zM41 417h2v1h-2zM442 417h3v1h-3zM476 417h2v1h-2zM680 417h2v1h-2zM688 417h8v1h-8zM701 417h3v1h-3zM723 417h1v1h-1zM5 418h3v1h-3zM43 418h5v1h-5zM438 418h4v1h-4zM478 418h1v1h-1zM677 418h3v1h-3zM696 418h5v1h-5zM3 419h2v1h-2zM48 419h4v1h-4zM360 419h6v1h-6zM403 419h2v1h-2zM432 419h6v1h-6zM479 419h1v1h-1zM672 419h5v1h-5zM52 420h2v1h-2zM355 420h5v1h-5zM366 420h4v1h-4zM401 420h2v1h-2zM405 420h3v1h-3zM427 420h5v1h-5zM480 420h2v1h-2zM666 420h6v1h-6zM54 421h1v1h-1zM353 421h2v1h-2zM370 421h11v1h-11zM399 421h2v1h-2zM408 421h2v1h-2zM425 421h2v1h-2zM482 421h1v1h-1zM530 421h6v1h-6zM662 421h4v1h-4zM55 422h1v1h-1zM218 422h2v1h-2zM288 422h8v1h-8zM351 422h2v1h-2zM381 422h2v1h-2zM397 422h2v1h-2zM410 422h3v1h-3zM424 422h1v1h-1zM483 422h11v1h-11zM526 422h4v1h-4zM536 422h16v1h-16zM650 422h12v1h-12zM56 423h2v1h-2zM214 423h4v1h-4zM220 423h2v1h-2zM282 423h6v1h-6zM296 423h8v1h-8zM349 423h2v1h-2zM383 423h2v1h-2zM394 423h3v1h-3zM413 423h3v1h-3zM422 423h2v1h-2zM494 423h4v1h-4zM522 423h4v1h-4zM552 423h6v1h-6zM646 423h4v1h-4zM58 424h1v1h-1zM210 424h4v1h-4zM222 424h2v1h-2zM280 424h2v1h-2zM304 424h13v1h-13zM347 424h2v1h-2zM385 424h2v1h-2zM390 424h4v1h-4zM416 424h2v1h-2zM420 424h2v1h-2zM498 424h6v1h-6zM518 424h4v1h-4zM558 424h4v1h-4zM603 424h3v1h-3zM643 424h3v1h-3zM59 425h9v1h-9zM147 425h3v1h-3zM208 425h2v1h-2zM224 425h1v1h-1zM277 425h3v1h-3zM317 425h3v1h-3zM345 425h2v1h-2zM387 425h3v1h-3zM418 425h2v1h-2zM504 425h14v1h-14zM562 425h3v1h-3zM601 425h2v1h-2zM606 425h4v1h-4zM641 425h2v1h-2zM68 426h2v1h-2zM145 426h2v1h-2zM150 426h4v1h-4zM205 426h3v1h-3zM225 426h2v1h-2zM232 426h5v1h-5zM274 426h3v1h-3zM320 426h2v1h-2zM343 426h2v1h-2zM565 426h3v1h-3zM599 426h2v1h-2zM610 426h3v1h-3zM639 426h2v1h-2zM70 427h1v1h-1zM143 427h2v1h-2zM154 427h22v1h-22zM202 427h3v1h-3zM227 427h5v1h-5zM237 427h3v1h-3zM272 427h2v1h-2zM322 427h14v1h-14zM341 427h2v1h-2zM568 427h2v1h-2zM597 427h2v1h-2zM613 427h3v1h-3zM637 427h2v1h-2zM71 428h1v1h-1zM141 428h2v1h-2zM176 428h5v1h-5zM200 428h2v1h-2zM240 428h2v1h-2zM269 428h3v1h-3zM336 428h5v1h-5zM570 428h2v1h-2zM592 428h5v1h-5zM616 428h2v1h-2zM624 428h13v1h-13zM72 429h2v1h-2zM138 429h3v1h-3zM181 429h3v1h-3zM197 429h3v1h-3zM242 429h2v1h-2zM259 429h10v1h-10zM572 429h2v1h-2zM587 429h5v1h-5zM618 429h6v1h-6zM74 430h1v1h-1zM134 430h4v1h-4zM184 430h2v1h-2zM192 430h5v1h-5zM244 430h2v1h-2zM257 430h2v1h-2zM574 430h1v1h-1zM585 430h2v1h-2zM75 431h9v1h-9zM130 431h4v1h-4zM186 431h6v1h-6zM246 431h2v1h-2zM256 431h1v1h-1zM575 431h1v1h-1zM584 431h1v1h-1zM84 432h2v1h-2zM128 432h2v1h-2zM248 432h1v1h-1zM254 432h2v1h-2zM576 432h2v1h-2zM582 432h2v1h-2zM86 433h1v1h-1zM99 433h5v1h-5zM125 433h3v1h-3zM249 433h2v1h-2zM252 433h2v1h-2zM578 433h1v1h-1zM580 433h2v1h-2zM87 434h1v1h-1zM97 434h2v1h-2zM104 434h21v1h-21zM251 434h1v1h-1zM579 434h1v1h-1zM88 435h2v1h-2zM95 435h2v1h-2zM90 436h1v1h-1zM93 436h2v1h-2zM91 437h2v1h-2z"/><rect x="0" y="0" width="2" height="475" fill="#fff"/><path fill="#000" d="M2 2h915v1h-915zM2 320h915v1h-915zM2 2h1v319h-1zM916 2h1v319h-1zM2 322h915v1h-915zM2 384h915v1h-915zM2 322h1v63h-1zM916 322h1v63h-1zM2 386h915v1h-915zM2 451h915v1h-915zM2 386h1v66h-1zM916 386h1v66h-1zM917 7h2v1h-2zM917 56h2v1h-2zM917 105h2v1h-2zM917 154h2v1h-2zM917 203h2v1h-2zM917 252h2v1h-2zM917 301h2v1h-2zM917 324h2v1h-2zM917 351h2v1h-2zM917 383h2v1h-2zM917 388h2v1h-2zM917 450h1v1h-1zM3 452h1v3h-1zM99 452h1v3h-1zM195 452h1v3h-1zM291 452h1v3h-1zM387 452h1v3h-1zM483 452h1v3h-1zM579 452h1v3h-1zM675 452h1v3h-1zM771 452h1v3h-1zM867 452h1v3h-1z"/><rect x="918" y="136" width="56" height="14" fill="#000"/></svg>
<div class="t" style="left:6.65px;top:6.75px;letter-spacing:-1.420px">UKOUSD</div><div class="t" style="left:54.48px;top:6.75px;letter-spacing:-0.417px">+,H1</div><div class="t" style="left:89.30px;top:6.75px;letter-spacing:0.067px">106.393</div><div class="t" style="left:139.10px;top:6.75px;letter-spacing:-0.033px">106.413</div><div class="t" style="left:189.10px;top:6.75px;letter-spacing:-0.046px">105.941</div><div class="t" style="left:238.90px;top:6.75px;letter-spacing:0.046px">106.154</div><div class="t" style="left:6.90px;top:327.75px;letter-spacing:-1.500px">MACD</div><div class="t" style="left:39.75px;top:327.75px;letter-spacing:0.178px">(12,26,9)</div><div class="t" style="left:96.00px;top:327.75px;letter-spacing:-0.020px">0.8398</div><div class="t" style="left:139.00px;top:327.75px;letter-spacing:0.085px">1.0869</div><div class="t" style="left:7.00px;top:391.75px;letter-spacing:-1.037px">RSI</div><div class="t" style="left:25.85px;top:391.75px;letter-spacing:0.308px">(14)</div><div class="t" style="left:53.10px;top:391.75px;letter-spacing:0.083px">56.6209</div><div class="t" style="left:922.80px;top:1.75px;letter-spacing:0.379px">111.600</div><div class="t" style="left:922.90px;top:50.75px;letter-spacing:0.067px">109.640</div><div class="t" style="left:922.90px;top:99.75px;letter-spacing:0.067px">107.680</div><div class="t" style="left:922.90px;top:148.75px;letter-spacing:0.067px">105.720</div><div class="t" style="left:922.90px;top:197.75px;letter-spacing:0.067px">103.760</div><div class="t" style="left:922.90px;top:246.75px;letter-spacing:0.017px">101.765</div><div class="t" style="left:922.67px;top:295.75px;letter-spacing:0.165px">99.805</div><div class="t" style="left:923.00px;top:137.75px;letter-spacing:0.029px;color:#fff">106.154</div><div class="t" style="left:919.70px;top:325.75px;letter-spacing:0.085px">1.4141</div><div class="t" style="left:920.50px;top:345.75px;letter-spacing:-0.167px">0.00</div><div class="t" style="left:920.00px;top:370.75px;letter-spacing:0.079px">-1.6198</div><div class="t" style="left:919.70px;top:389.75px;letter-spacing:0.200px">100</div><div class="t" style="left:918.48px;top:400.75px;letter-spacing:0.425px">70</div><div class="t" style="left:918.60px;top:426.75px;letter-spacing:0.300px">30</div><div class="t" style="left:920.20px;top:437.75px;letter-spacing:0.000px">0</div><div class="t" style="left:1.58px;top:456.75px;letter-spacing:0.000px">6</div><div class="t" style="left:13.50px;top:456.75px;letter-spacing:-0.337px">Apr</div><div class="t" style="left:36.17px;top:456.75px;letter-spacing:0.050px">2022</div><div class="t" style="left:97.58px;top:456.75px;letter-spacing:0.000px">6</div><div class="t" style="left:109.50px;top:456.75px;letter-spacing:-0.338px">Apr</div><div class="t" style="left:132.28px;top:456.75px;letter-spacing:-0.069px">21:00</div><div class="t" style="left:193.57px;top:456.75px;letter-spacing:0.000px">7</div><div class="t" style="left:205.50px;top:456.75px;letter-spacing:-0.338px">Apr</div><div class="t" style="left:227.90px;top:456.75px;letter-spacing:0.244px">11:00</div><div class="t" style="left:289.57px;top:456.75px;letter-spacing:0.000px">7</div><div class="t" style="left:301.50px;top:456.75px;letter-spacing:-0.338px">Apr</div><div class="t" style="left:324.27px;top:456.75px;letter-spacing:-0.069px">23:00</div><div class="t" style="left:385.70px;top:456.75px;letter-spacing:0.000px">8</div><div class="t" style="left:397.50px;top:456.75px;letter-spacing:-0.338px">Apr</div><div class="t" style="left:419.90px;top:456.75px;letter-spacing:0.025px">13:00</div><div class="t" style="left:481.70px;top:456.75px;letter-spacing:0.300px">11</div><div class="t" style="left:500.30px;top:456.75px;letter-spacing:-0.638px">Apr</div><div class="t" style="left:523.40px;top:456.75px;letter-spacing:-0.050px">02:00</div><div class="t" style="left:577.70px;top:456.75px;letter-spacing:0.300px">11</div><div class="t" style="left:596.30px;top:456.75px;letter-spacing:-0.637px">Apr</div><div class="t" style="left:618.90px;top:456.75px;letter-spacing:0.075px">14:00</div><div class="t" style="left:673.70px;top:456.75px;letter-spacing:0.125px">12</div><div class="t" style="left:692.30px;top:456.75px;letter-spacing:-0.637px">Apr</div><div class="t" style="left:715.40px;top:456.75px;letter-spacing:-0.050px">04:00</div><div class="t" style="left:769.70px;top:456.75px;letter-spacing:0.125px">12</div><div class="t" style="left:788.30px;top:456.75px;letter-spacing:-0.637px">Apr</div><div class="t" style="left:810.90px;top:456.75px;letter-spacing:0.075px">16:00</div><div class="t" style="left:865.70px;top:456.75px;letter-spacing:0.000px">13</div><div class="t" style="left:884.30px;top:456.75px;letter-spacing:-0.637px">Apr</div><div class="t" style="left:907.40px;top:456.75px;letter-spacing:-0.050px">06:00</div>
</body></html>
